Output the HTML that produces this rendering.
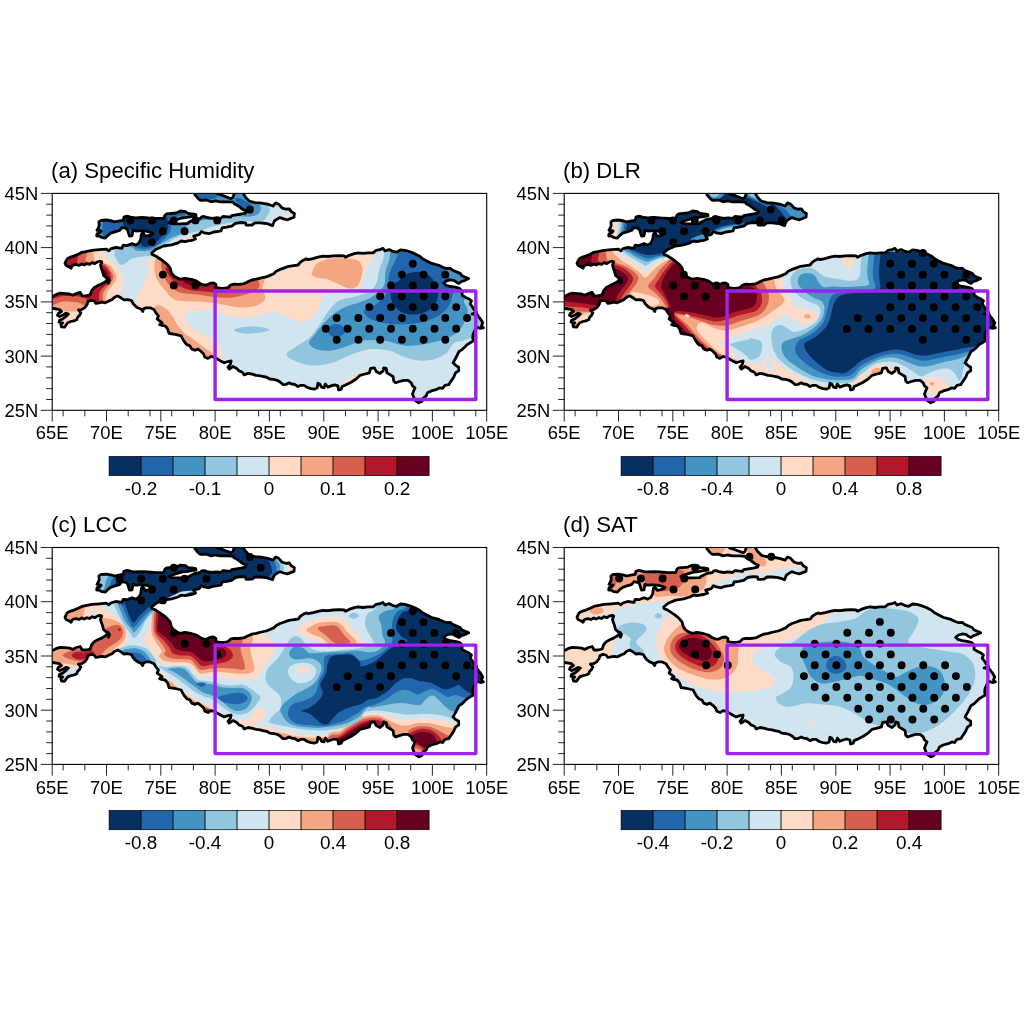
<!DOCTYPE html><html><head><meta charset="utf-8"><title>figure</title><style>
html,body{margin:0;padding:0;background:#fff}svg{display:block}text{font-family:"Liberation Sans",sans-serif;fill:#000}
</style></head><body>
<svg width="1024" height="1024" viewBox="0 0 1024 1024">
<rect width="1024" height="1024" fill="#fff"/>
<defs>
<path id="ol" d="M-5.7 103.1L0.3 103.1L3.7 101.2L8 99.8L13 100.2L17.4 100.6L20.5 101.9L24.3 100L28 99L29.9 102.5L33.7 102.5L38 101.5L39.3 97.5L41.8 94.4L45.5 92.2L49.3 90.6L53 88.5L54.9 86.5L56.3 89.8L57.3 87L56 85.1L53.5 83.9L51.3 82L50.4 78.2L49.2 75.1L48.3 71.8L49.5 68.5L47.9 67.8L45 68.6L42.5 70.2L40 69.2L37.3 71L34.5 70.2L32 71.5L29.5 70.5L26.7 72L23.5 71.1L20.4 72L18.8 74.8L16.7 73.2L14.2 72.2L12.8 70.1L13.8 67.6L15.4 65.1L18.5 63.6L22.3 62.4L26 60.8L29.8 58.9L34.8 57.9L39.8 56.9L47.3 56.3L54.2 55.7L56.7 57.4L58.5 55.5L63.5 54L69.8 54.9L71 51.8L74.8 52.2L79.8 50.2L83.5 51.6L86.7 49.8L88.5 46L89.2 41L90.7 39.2L92.9 42.8L96 42.3L99.2 41.4L100.9 39.9L96 38.2L92.9 37.6L89.8 37.4L87.3 37.4L83.5 37.6L80.7 36.8L80.3 39.8L79.8 42.4L77.3 42.6L76.4 39.8L75.4 36.6L73.5 34.8L69.8 34.1L67.3 37.1L63.5 38.2L58.5 39.8L55.4 42.2L53.2 44.6L49.8 44.2L46.7 42.6L44.5 42.6L44.8 40.4L47.9 39.1L48.9 37.6L44.8 36.9L46 34.8L47 32.2L46.7 28.5L48.5 27.1L54.2 26.6L59.8 27.6L62.3 28.5L66.7 27.6L71 26.9L71.7 23.8L74.8 22.8L79.8 24.1L83.5 24.4L89.8 24.1L96 24.4L95.8 24.5L103.9 25.1L111.4 25L113 21.4L114.5 20.4L123.9 19.6L128.3 17.6L133.3 18.2L135.8 20.1L139.5 20.4L143.6 21.1L143.8 22.5L139.5 23.1L135.8 23.8L129.5 24.6L123.3 26.4L118.9 27.8L116.7 29.2L120.8 30.4L128.3 30.4L135.8 30.1L135.8 29.4L142 26.2L148.3 25L149.5 23.4L152 23.1L154.5 24.1L159.5 25L163.9 24.4L168.3 25L170.8 23.1L178.3 23.8L179.5 22.2L188.9 20.6L193.3 19.7L194.2 17.8L190.8 16.2L187.7 13.8L184.5 11.6L182 10.3L180.8 8.8L175.8 8.4L168.3 8.4L163.3 7.5L158.9 8.4L154.5 6.6L148.3 6.9L145.8 5L142.7 1.2L142 -5L165.2 -5L165.2 0.3L170.8 2.2L178.9 5.3L180.8 3.8L182 0.3L182 -5L191.4 -5L191.4 0.6L193.3 3.8L197 7.5L197.8 8L202.8 9.2L207.8 9.5L215.3 10.8L220.9 12.6L223.4 9.5L226.5 10.8L229.7 14.5L233.4 15.8L237.2 15.5L239 18.2L242.2 20.1L241.8 23.9L238.4 25.1L235.3 26.4L231.5 25.5L227.8 24.2L224.7 25.8L222.2 27.6L220.3 32.2L216.5 30.8L214 30.1L207.8 29.5L202.8 29.5L199.8 31.6L193.9 31.8L193.3 29.5L188.9 29.1L183.3 30L179.5 32.8L174.5 33.8L169.9 34.5L168.9 37.5L165.8 38.1L160.8 38.8L157 40.3L152 39.4L149.2 38.1L147 41.2L141.4 42.6L143.3 45.6L139.5 47L135.8 47.5L133.3 48.2L128.9 47.6L125.8 49.5L119.5 51.4L111.4 52.6L103.9 55.8L99.5 59.5L99.8 61L103.5 62.6L107.3 65.1L111 67.6L114.8 70.8L117.9 74.5L119.2 79.5L121.7 82.6L124.8 84.5L127.8 85.8L132.8 85L139 86L144 87.5L147.8 90L150.9 91.6L154.7 91.6L157.8 90L161.3 89.5L163.8 91L163.4 94.1L167.8 94.8L171.5 95L175.9 94.1L178.4 91.6L181.5 90.8L186.5 91L191.5 90.4L195.3 88.5L199.7 86.6L204 85.8L209 84.5L214 83.5L217.8 82L221.5 80.4L224 77.9L227.8 76L232.2 74.5L236.5 72.9L241.5 72.2L245.9 71.6L248.4 68.5L251.5 66.6L254 65.4L255.8 66.2L260.8 65.2L265.8 63.8L270.8 62.8L275.8 63.1L280.8 62.5L287 62.2L292 62.5L293.3 63.8L297 61.9L302 60.2L305.8 59.4L310.8 60L315.8 59.4L320.8 59.4L323.9 56.9L327.7 56.2L330.8 55L332.7 57.5L337 56.2L340.8 58.1L344.5 58.8L348.3 56.5L352.7 56.9L357 58.1L362 60L367 62.5L370.8 65.6L374.5 67.5L379.5 70L383.8 71.2L386.8 71.9L390.5 73.8L394.3 75.2L398 74.8L400.5 76.9L404.3 78.5L408 80L409.9 82.5L413 83.8L416.5 85.2L413 86.9L409.3 88.1L406.8 90L404.3 88.8L401.8 86.9L398 86.5L394.3 87.5L391.5 89.8L393.7 91.9L398 93.1L403 93.8L407.4 95L409.9 97.5L409.9 101.9L413 103.8L416.8 105.6L419.3 107.5L418 110.6L419.9 113.1L421.8 116.2L424.3 118.8L419.9 120.6L424.9 121L426.8 123.8L428.7 126.2L430.5 129.4L429.3 132.5L431.2 134.4L428 135L424.9 133.8L422.4 137.5L420.8 141.2L420.5 145L421.2 147.5L418 149.4L414.9 151.2L412.4 153.8L409.9 156.2L406.8 158.1L404.9 161.9L403 165.6L400.9 169.4L403.4 171.9L406.5 173.8L406.5 177.5L403.4 179.4L401.5 183.8L399 187.5L396.5 191.2L392.8 191.9L390.3 195L387.8 194.4L384 196.2L379 197.5L375.3 199.4L374 202.5L370.9 205L369.7 208.1L366.5 209.4L362.8 206.9L361.5 203.8L360.3 200.6L361.5 197.5L362.8 194.4L360.3 192.5L359 189.4L355.9 186.9L351.5 186.9L347.2 188.1L343.4 189.4L341.5 187.5L340.9 183.1L337.8 181.2L334.7 179.4L334 175L331.5 174.4L330.9 177.5L327.8 180L324 178.1L322.2 174.4L318.4 175L317.2 179.4L312.8 180.6L307.8 181.9L304 185.6L299 188.8L292.8 191.9L290 193.1L288.8 196L286.3 196.5L285.7 192.5L282.5 191.5L278.8 192.5L275.7 193.8L273.2 190.6L271.9 194.4L269.4 193.8L267.5 190.6L265.7 189.8L265 194.4L262.5 195.6L258.8 195.2L255 194L251.9 191.9L248.8 191.9L245.7 193.1L242.5 191L239.4 190.6L236.9 189.4L233.8 191L230.7 191.2L228.2 188.8L225 186.9L221.3 186L217.5 185.6L214.4 183.8L210.7 183.1L206.9 182.2L203.8 181.9L199.5 180.6L195.8 180L192 181.5L190.2 178.8L187 177.5L184.5 175L180.8 173.1L177 175.6L175.8 173.8L178.3 170.6L178.9 167.5L175.8 168.1L172 169.4L168.3 167.5L165.2 165.6L162 163.8L158.9 163.1L155.8 165L152.7 163.8L151.4 160.6L148.9 158.1L145.8 155.6L142.7 156.9L139.5 155.6L137.7 152.5L134.5 151.2L132 148.1L130.2 145L128.9 142.5L125.2 141.5L120.8 140.6L116.8 140L115.5 135.6L113 132.5L109.3 131.9L107.4 131.2L109.9 129.4L106.8 126.9L104.9 125.6L106.2 122.5L103.7 119.4L101.8 116.2L98 114.4L93.7 114.4L91.2 115.6L90.5 118.1L88.7 115.6L85.5 114.4L83 112.5L80.8 110L79.3 107.2L75.5 106.2L71.8 106.5L68.7 104.4L65.5 102.5L62.4 103.8L59.9 106.2L56.8 107.5L53 109.4L49.9 108.8L46.8 109.4L43.7 110L41.8 107.5L38.7 106.9L35.8 108.1L34.9 111.2L32.4 114.4L29.3 116.2L26.2 116.5L28.7 119.4L27.4 121.9L25.5 123.8L24.5 126.2L21.8 127.5L18.7 128.1L15.5 129.4L13.7 131.9L12.4 133.8L9.3 133.5L8.7 131.2L10.5 129.4L6.8 128.8L7.4 126.9L10.5 125.6L13.7 123.1L16.2 120.6L13.7 119.8L10.5 121.9L7.4 123.1L5.3 121.9L6.2 119.8L9.3 118.1L7.4 116.2L4.3 115.6L0.3 115L-5.7 115Z"/>
<clipPath id="cp"><use href="#ol"/></clipPath>
<clipPath id="fr"><rect x="0" y="0" width="434.5" height="216.9"/></clipPath>
</defs>
<g transform="translate(52.2 193.4)">
<g clip-path="url(#fr)"><g clip-path="url(#cp)">
<rect x="0" y="0" width="434.5" height="216.9" fill="#FDDBC7"/>
<path d="M50.4 56.5C52.7 57.9 52.2 60.2 53.5 62.1C54.9 64 56.7 65.7 58.5 67.7C60.4 69.7 63 72 64.8 74C66.6 76 68.2 77.4 69.2 79.6C70.2 81.8 70.7 84.6 70.8 87.1C70.9 89.6 70.3 91.9 69.8 94.6C69.3 97.3 67.5 100.4 67.9 103.3C68.3 106.3 69.9 111.1 72.3 112.1C74.7 113.1 80 111.5 82.3 109.6C84.6 107.7 84.8 103.6 86 100.8C87.3 98.1 88.5 95.8 89.8 93.3C91 90.8 92.5 88.6 93.5 85.8C94.6 83.1 95.8 79.8 96 77.1C96.3 74.4 94.4 71.7 94.8 69.6C95.2 67.5 96.9 66.1 98.5 64.6C100.2 63.1 102.1 62.5 104.8 60.8C107.5 59.2 111 56.3 114.8 54.6C118.5 52.9 123.1 51.3 127.3 50.8C131.5 50.4 131.5 52.7 139.8 52.1C148.1 51.5 177.3 47.1 177.3 47.1L252.3 37.1C252.3 37.1 252.3 -7.9 252.3 -7.9L39.8 -7.9C39.8 -7.9 34.8 14.4 34.8 24.6C34.8 34.8 37.2 48 39.8 53.3C42.4 58.7 48.1 55 50.4 56.5Z" fill="#D1E5F0"/>
<path d="M328.1 53.3C320.1 58.3 322 62.7 319.3 67.1C316.6 71.5 313.5 75.4 311.8 79.6C310.1 83.8 311 89.2 309.3 92.1C307.6 95 305.6 95.8 301.8 97.1C298.1 98.3 291.8 98.8 286.8 99.6C281.8 100.4 274.9 100.4 271.8 102.1C268.7 103.8 269.3 106.7 268.1 109.6C266.8 112.5 266.6 116.7 264.3 119.6C262 122.5 258.1 125.8 254.3 127.1C250.6 128.3 245.6 127.9 241.8 127.1C238.1 126.3 235.1 123.6 231.8 122.1C228.5 120.6 226 118.3 221.8 118.3C217.6 118.3 211.8 121.1 206.8 122.1C201.8 123.1 197.1 124.6 191.8 124.6C186.5 124.6 180.1 123.3 174.8 122.1C169.5 120.8 165.6 117.7 159.8 117.1C154 116.5 144.4 117.1 139.8 118.3C135.2 119.6 132.3 121.9 132.3 124.6C132.3 127.3 136.1 131.5 139.8 134.6C143.6 137.7 150.6 140.8 154.8 143.3C159 145.8 162.3 146.9 164.8 149.6C167.3 152.3 167.8 155.4 169.8 159.6C171.8 163.8 174.8 168.8 176.8 174.6C178.8 180.4 181.8 194.6 181.8 194.6L241.8 219.6L366.8 224.6L441.8 174.6L441.8 74.6L366.8 37.1C366.8 37.1 336 48.3 328.1 53.3Z" fill="#D1E5F0"/>
<path d="M60.4 55.8C64.2 57.5 61.6 60.2 62.3 62.1C63 64 63.7 65.5 64.8 67.1C65.9 68.7 67.7 71.1 69.2 71.5C70.6 71.9 72.2 70.4 73.5 69.6C74.9 68.8 75.8 67.3 77.3 66.5C78.8 65.6 80.2 65.1 82.3 64.6C84.4 64.1 87.5 63.7 89.8 63.3C92.1 63 94.4 63.1 96 62.7C97.7 62.3 98.5 61.7 99.8 60.8C101 60 101.9 59.1 103.5 57.7C105.2 56.4 107.5 54.3 109.8 52.7C112.1 51.2 114.3 50 117.3 48.3C120.3 46.7 124 44.3 127.8 42.7C131.6 41.2 136.6 40 140.3 39C144.1 37.9 147.2 37.4 150.3 36.5C153.4 35.5 155.7 34.3 159.1 33.3C162.4 32.4 166.6 31.6 170.3 30.8C174.1 30.1 177.8 29.5 181.6 29C185.3 28.5 188.8 27.7 192.8 27.7C196.8 27.7 202.2 29.1 205.3 29C208.4 28.9 209.9 28.2 211.6 27.1C213.2 26 214.3 23.8 215.3 22.1C216.3 20.4 217.8 18.8 217.8 17.1C217.8 15.4 217 13.6 215.3 12.1C213.6 10.6 210 11.7 207.8 8.3C205.6 5 202.3 -7.9 202.3 -7.9L39.8 -7.9C39.8 -7.9 34.8 14.6 34.8 24.6C34.8 34.6 35.5 46.9 39.8 52.1C44.1 57.3 56.7 54.2 60.4 55.8Z" fill="#92C5DE"/>
<path d="M336.8 53.3C330.8 58.3 332.2 63.1 330.6 67.1C328.9 71.1 327.8 73.3 326.8 77.1C325.8 80.8 326 86.1 324.3 89.6C322.6 93.1 320.6 96.1 316.8 98.3C313.1 100.6 306.8 101.9 301.8 103.3C296.8 104.8 291 104.8 286.8 107.1C282.6 109.4 280.1 112.9 276.8 117.1C273.5 121.3 270.1 127.5 266.8 132.1C263.5 136.7 261 140.8 256.8 144.6C252.6 148.3 245.6 151.9 241.8 154.6C238.1 157.3 234.3 158.8 234.3 160.8C234.3 162.9 237.6 165.2 241.8 167.1C246 169 253.1 171.7 259.3 172.1C265.6 172.5 273.1 171.3 279.3 169.6C285.6 167.9 290.6 164.4 296.8 162.1C303.1 159.8 310.1 156.7 316.8 155.8C323.5 155 331 155.8 336.8 157.1C342.6 158.3 346.8 161.7 351.8 163.3C356.8 165 361.8 166.7 366.8 167.1C371.8 167.5 377.2 167.1 381.8 165.8C386.4 164.6 391 162.3 394.3 159.6C397.6 156.9 398.9 151.7 401.8 149.6C404.7 147.5 408.5 148.3 411.8 147.1C415.1 145.8 416.8 145.8 421.8 142.1C426.8 138.3 441.8 124.6 441.8 124.6L441.8 62.1L366.8 37.1C366.8 37.1 342.8 48.3 336.8 53.3Z" fill="#92C5DE"/>
<path d="M181.8 136.6C181.8 135.5 187.6 134.1 191.8 133.6C196 133.1 202.6 132.8 206.8 133.3C211.1 133.8 217.7 135.6 217.3 136.6C216.9 137.6 208.6 139 204.3 139.6C200.1 140.2 195.6 140.6 191.8 140.1C188.1 139.6 181.8 137.7 181.8 136.6Z" fill="#92C5DE"/>
<path d="M77.3 53.3C84.4 54.5 80.2 55.7 82.3 56.5C84.4 57.2 87.5 57.6 89.8 57.7C92.1 57.9 94.2 57.7 96 57.3C97.9 57 99.4 56.7 101 55.8C102.7 55 104.2 53.3 106 52.1C107.9 50.8 110 49.7 112.3 48.3C114.6 47 117.3 45.2 119.8 44C122.3 42.7 125.3 42.2 127.3 40.8C129.3 39.5 130.2 37.5 131.7 35.8C133.1 34.2 134.1 32.1 136.1 30.8C138 29.6 140.8 29.3 143.6 28.6C146.3 27.9 148.1 27.1 152.3 26.5C156.6 25.8 164.2 25.2 169.1 24.6C173.9 24 177.2 22.9 181.6 22.7C185.9 22.5 191.8 23.5 195.3 23.3C198.8 23.2 200.7 22.9 202.8 22.1C204.9 21.3 206.9 19.8 207.8 18.3C208.7 16.9 208.8 14.8 208.4 13.3C208 11.9 207.1 10.8 205.3 9.6C203.5 8.3 199.9 7.2 197.8 5.8C195.7 4.5 193.6 3.8 192.8 1.5C192 -0.8 192.8 -7.9 192.8 -7.9L39.8 -7.9C39.8 -7.9 34.8 15 34.8 24.6C34.8 34.2 32.7 44.8 39.8 49.6C46.9 54.4 70.2 52.2 77.3 53.3Z" fill="#4393C3"/>
<path d="M341.8 53.3C336.8 58.3 338.3 62.7 336.8 67.1C335.3 71.5 333.9 75.4 333.1 79.6C332.2 83.8 333.7 88.3 331.8 92.1C329.9 95.8 325.6 99.4 321.8 102.1C318.1 104.8 313.5 106.7 309.3 108.3C305.1 110 301 110.4 296.8 112.1C292.6 113.8 288.5 115.4 284.3 118.3C280.1 121.3 275.6 125.6 271.8 129.6C268.1 133.6 264.3 138.8 261.8 142.1C259.3 145.4 256.4 147.3 256.8 149.6C257.2 151.9 260.6 154.6 264.3 155.8C268.1 157.1 273.9 157.7 279.3 157.1C284.7 156.5 291.4 153.8 296.8 152.1C302.2 150.4 306 147.9 311.8 147.1C317.6 146.3 325.1 146.3 331.8 147.1C338.5 147.9 345.1 151.5 351.8 152.1C358.5 152.7 365.1 151.9 371.8 150.8C378.5 149.8 386.4 147.7 391.8 145.8C397.2 144 401 142.3 404.3 139.6C407.6 136.9 409.9 133.3 411.8 129.6C413.7 125.8 415.3 121.3 415.6 117.1C415.8 112.9 408.7 108.3 413.1 104.6C417.4 100.8 437 101.7 441.8 94.6C446.6 87.5 441.8 62.1 441.8 62.1L366.8 37.1C366.8 37.1 346.8 48.3 341.8 53.3Z" fill="#4393C3"/>
<path d="M52.3 17.1L134.8 15.8C134.8 15.8 134.4 20.3 132.9 21.5C131.5 22.6 128 22 126 22.7C124.1 23.5 122.2 24.3 121 25.8C119.9 27.4 119.7 30 119.2 32.1C118.7 34.2 118.8 36.5 117.9 38.3C117.1 40.2 115.6 41.7 114.2 43.3C112.7 45 110.8 46.9 109.2 48.3C107.5 49.8 105.9 51.1 104.2 52.1C102.4 53.1 100.5 54 98.5 54.6C96.6 55.2 94.4 55.6 92.3 55.6C90.2 55.6 87.9 55.1 86 54.6C84.2 54.1 82.5 53.7 81 52.7C79.6 51.8 82.1 49.7 77.3 49C72.5 48.2 56.5 53.7 52.3 48.3C48.1 43 52.3 17.1 52.3 17.1Z" fill="#2166AC"/>
<path d="M182.8 5.8C182.8 4.6 185.9 4.5 187.8 4.8C189.7 5.2 192.2 7 194.1 8.1C195.9 9.2 197.8 10.3 199.1 11.5C200.3 12.7 201.6 13.8 201.8 15.2C202 16.6 201.3 19.3 200.1 19.8C198.8 20.4 196.1 19.9 194.1 18.6C192 17.3 189.7 14.2 187.8 12.1C185.9 10 182.8 7.1 182.8 5.8Z" fill="#2166AC"/>
<path d="M140.3 -1.7C143.8 -2.7 161.4 -2.7 165.3 -1.7C169.2 -0.7 165.5 3.1 163.4 4.3C161.3 5.6 156 6.1 152.8 6.1C149.6 6.1 146.1 5.9 144.1 4.6C142 3.3 136.8 -0.6 140.3 -1.7Z" fill="#2166AC"/>
<path d="M351.8 53.3C346.8 56.7 344.3 64.8 341.8 69.6C339.3 74.4 337.8 77.9 336.8 82.1C335.8 86.3 336.4 90.8 335.6 94.6C334.7 98.3 334.1 101.7 331.8 104.6C329.5 107.5 325.1 110 321.8 112.1C318.5 114.2 312.6 115 311.8 117.1C311 119.2 313.5 122.5 316.8 124.6C320.1 126.7 326 128.6 331.8 129.6C337.6 130.6 345.1 131.1 351.8 130.8C358.5 130.6 366 129.8 371.8 128.3C377.6 126.9 382.6 124.8 386.8 122.1C391 119.4 394.5 115.8 396.8 112.1C399.1 108.3 400.1 103.3 400.6 99.6C401 95.8 400.1 92.7 399.3 89.6C398.5 86.5 397.1 83.7 395.6 80.8C394 78 391.7 75.4 389.8 72.6C387.9 69.8 387.3 67.9 384.3 64.1C381.3 60.3 377.2 51.4 371.8 49.6C366.4 47.8 356.8 50 351.8 53.3Z" fill="#2166AC"/>
<path d="M275.6 137.1C275.8 135.2 278.3 131.9 280.6 131.1C282.8 130.3 287.2 130.9 289.3 132.1C291.4 133.3 293.5 136.5 293.1 138.3C292.6 140.2 289.1 142.6 286.8 143.3C284.5 144.1 281.2 143.6 279.3 142.6C277.4 141.6 275.3 139 275.6 137.1Z" fill="#2166AC"/>
<path d="M71 17.1C77.6 15.6 102.5 18.1 109.8 19.6C117.1 21.1 113.8 23.8 114.8 25.8C115.8 27.9 116 30.2 116 32.1C116 34 115.6 35.4 114.8 37.1C114 38.8 112.5 40.5 111 42.1C109.6 43.7 107.5 45.2 106 46.5C104.6 47.7 103.5 48.7 102.3 49.6C101 50.5 100 51.5 98.5 52.1C97.1 52.7 95 53.3 93.5 53.3C92.1 53.3 90.6 53.3 89.8 52.1C89 50.8 88.9 47.9 88.5 45.8C88.2 43.8 88.8 41.1 87.9 39.6C87.1 38.1 85.3 37.7 83.5 37.1C81.8 36.5 79.1 36.5 77.3 35.8C75.5 35.2 73.7 34.6 72.5 33.3C71.4 32.1 70.7 31.1 70.4 28.3C70.2 25.6 64.5 18.6 71 17.1Z" fill="#053061"/>
<path d="M346.8 87.1C348.9 85.4 351 82.3 354.3 80.8C357.6 79.4 363.1 78.1 366.8 78.3C370.6 78.6 373.9 79.8 376.8 82.1C379.7 84.4 382.8 88.3 384.3 92.1C385.8 95.8 386.4 100.8 385.6 104.6C384.7 108.3 382.4 111.9 379.3 114.6C376.2 117.3 371.4 120 366.8 120.8C362.2 121.7 356 121.1 351.8 119.6C347.6 118.1 344.1 115.4 341.8 112.1C339.5 108.8 338.1 103.1 338.1 99.6C338.1 96.1 340.3 92.9 341.8 90.8C343.3 88.8 344.7 88.8 346.8 87.1Z" fill="#053061"/>
<path d="M41.2 50.3C41.2 50.3 40.9 55.6 41.2 58.5C41.5 61.4 41.9 66.1 43 67.8C44.2 69.6 45.8 68.5 48 69.1C50.3 69.7 54.8 70.7 56.8 71.6C58.8 72.5 59.2 73.1 60.3 74.7C61.4 76.4 63.2 79.4 63.7 81.6C64.1 83.8 63.8 86 63 87.8C62.3 89.7 60.5 91.2 59.3 92.8C58 94.5 56.5 96 55.5 97.8C54.6 99.7 54.1 101.6 53.7 104.1C53.3 106.6 56.7 110.3 53 112.8C49.4 115.3 36 118.4 31.8 119.1C27.6 119.8 29.3 117 28 116.8C26.8 116.7 26.2 117.9 24.3 118.1C22.4 118.3 19.1 118.2 16.8 118.1C14.5 118 12.6 117.5 10.5 117.5C8.5 117.5 6.6 117.8 4.3 118.1C2 118.4 -0.1 118.9 -3.2 119.1C-6.3 119.3 -14.5 119.1 -14.5 119.1L-14.5 50.3L41.2 50.3Z" fill="#F4A582"/>
<path d="M34.3 50.3C34.3 50.3 35 56.2 34.9 59.1C34.8 62 32.5 66.2 33.7 67.8C34.8 69.5 39.1 68.9 41.8 69.1C44.5 69.3 47.8 68.7 49.9 69.1C52 69.5 53.1 70.6 54.3 71.6C55.5 72.6 56 73.7 57 75.3C58.1 77 60.3 79.7 60.8 81.6C61.3 83.5 61 84.9 60.3 86.6C59.6 88.3 58.1 89.9 56.8 91.6C55.5 93.3 53.5 94.9 52.4 96.6C51.4 98.3 51 99.1 50.5 101.6C50.1 104.1 52.4 109.1 49.9 111.6C47.4 114.1 38.6 116.6 35.5 116.6C32.5 116.6 33.7 112.9 31.8 111.6C29.9 110.3 27.2 109.4 24.3 108.8C21.4 108.3 17.2 108.1 14.3 108.1C11.4 108.1 9.1 108.5 6.8 109.1C4.5 109.7 4.1 111 0.5 111.6C-3 112.2 -14.5 112.8 -14.5 112.8L-14.5 50.3L34.3 50.3Z" fill="#D6604D"/>
<path d="M26.2 50.3C32.9 52.1 26.4 57.8 26.2 61C26 64.1 24.4 67.1 24.9 69.1C25.4 71.1 26.5 72.4 29.3 72.8C32.1 73.3 38.4 71.8 41.8 71.6C45.2 71.4 47.9 71.2 49.9 71.6C52 72 52.8 72.8 54 74.1C55.3 75.3 56.7 77.4 57.4 79.1C58.2 80.8 58.8 82.4 58.7 84.1C58.6 85.8 57.9 87.5 56.8 89.1C55.7 90.7 53.3 92 51.8 93.5C50.3 94.9 48.9 96.3 48 97.8C47.2 99.4 47.1 100.9 46.8 102.8C46.5 104.8 48.2 109 46.2 109.7C44.2 110.5 36.9 108 34.9 107.2C32.9 106.5 35.2 106 34.3 105.3C33.4 104.7 31.8 103.9 29.3 103.5C26.8 103 22.6 102.7 19.3 102.6C16 102.5 12.4 102.4 9.3 102.8C6.2 103.3 4.5 104.7 0.5 105.3C-3.4 106 -14.5 106.6 -14.5 106.6L-14.5 50.3C-14.5 50.3 19.4 48.6 26.2 50.3Z" fill="#B2182B"/>
<path d="M51.3 75.3C51.8 75 53.5 77.2 54.3 78.5C55.1 79.7 55.8 81.6 55.9 82.8C56 84.1 55.6 85.9 55 86.2C54.5 86.5 53 85.7 52.4 84.7C51.8 83.7 51.7 81.9 51.5 80.3C51.4 78.8 50.8 75.7 51.3 75.3Z" fill="#67001F"/>
<path d="M102.9 67.7C101.7 70.6 101.9 73.9 102.3 77.1C102.7 80.3 103.5 83.7 105.4 87.1C107.3 90.5 110.9 94.6 113.5 97.7C116.2 100.8 118.1 104.2 121.5 105.8C125 107.5 129.7 107.5 134.1 107.8C138.4 108.2 143.4 107.8 147.8 108.1C152.2 108.3 156.1 108.8 160.3 109.3C164.5 109.9 168.6 110.8 172.8 111.6C177 112.3 181.2 113.5 185.3 113.8C189.4 114.2 193.6 114.1 197.3 113.6C201 113.1 204.7 112.3 207.3 110.8C209.9 109.3 212.5 107.3 213.1 104.6C213.6 101.9 210.6 97.9 210.6 94.6C210.6 91.3 212 87.9 213.1 84.6C214.1 81.3 218.6 77.9 216.8 74.6C215 71.3 208.9 65.4 202.3 64.6C195.7 63.8 177.3 69.6 177.3 69.6L127.3 69.6C127.3 69.6 113.9 59.9 109.8 59.6C105.7 59.3 104.2 64.8 102.9 67.7Z" fill="#F4A582"/>
<path d="M110.4 67.7C107.5 68.3 109.5 73 109.8 75.8C110.1 78.7 110.8 81.6 112.3 84.6C113.8 87.6 116.5 91.2 119 93.6C121.6 96 124.3 97.9 127.8 99.1C131.3 100.3 136.1 100.1 140.3 100.6C144.5 101.1 149.1 101.8 152.8 102.3C156.6 102.8 158.6 103.3 162.8 103.6C167 103.9 173.2 104.6 177.8 104.3C182.4 104.1 186.4 102.8 190.3 101.8C194.2 100.8 198.2 99.8 201.1 98.3C203.9 96.9 206.5 95.2 207.3 93.3C208.1 91.5 207.3 89.2 206.1 87.1C204.8 85 204.6 82.9 199.8 80.8C195 78.8 177.3 74.6 177.3 74.6L127.3 72.1C127.3 72.1 113.3 67.1 110.4 67.7Z" fill="#D6604D"/>
<path d="M114.8 73.3C110.8 74.4 115 78.6 116 80.8C117.1 83.1 119.2 85.1 121 87.1C122.9 89.1 125 91.3 127.3 92.7C129.6 94.2 131.9 95 134.8 95.8C137.7 96.7 141.5 97.3 144.8 97.7C148.1 98.1 151 98.1 154.8 98.3C158.6 98.6 164.1 99.2 167.8 99C171.6 98.8 175.7 100.1 177.3 97.1C178.9 94.1 183.6 84.6 177.3 80.8C171.1 77.1 150.2 75.8 139.8 74.6C129.4 73.3 118.8 72.3 114.8 73.3Z" fill="#B2182B"/>
<path d="M126 84C125.2 85.1 130 87.7 132.3 89C134.6 90.3 137.3 91.2 139.8 91.8C142.3 92.5 145.1 92.7 147.3 92.7C149.5 92.7 152.1 92.8 152.9 91.8C153.8 90.9 154.9 88.7 152.3 87.1C149.7 85.5 141.7 82.6 137.3 82.1C132.9 81.6 126.9 82.8 126 84Z" fill="#67001F"/>
<path d="M103.5 112.6C105.5 110.2 111.3 113.6 114 115.3C116.8 117.1 118.4 120.1 120.3 122.8C122.2 125.6 123.4 128.9 125.3 131.6C127.2 134.3 129.1 136.8 131.6 139.1C134.1 141.4 137.2 143.1 140.3 145.3C143.4 147.6 147.2 150.6 150.3 152.8C153.4 155.1 157.1 157.3 159.1 159.1C161 160.8 161.7 160.8 161.8 163.3C161.9 165.9 163.5 174 159.8 174.6C156.1 175.2 146.5 171.3 139.8 167.1C133.1 162.9 126 155.8 119.8 149.6C113.5 143.3 105 135.8 102.3 129.6C99.6 123.4 101.6 115 103.5 112.6Z" fill="#F4A582"/>
<path d="M259.8 80.1C260 77.8 262 72.5 264.8 70.1C267.6 67.7 272.3 66.4 276.8 65.6C281.3 64.8 287.1 64.9 291.8 65.1C296.5 65.3 301.7 65.1 304.8 66.6C307.9 68.1 309.6 71 310.3 74.1C311 77.2 309.7 81.9 308.8 85.1C307.9 88.3 306.8 91.4 304.8 93.1C302.8 94.8 299.9 95.5 296.8 95.1C293.7 94.7 290.1 92.2 286.3 90.6C282.6 89 278.1 86.7 274.3 85.6C270.6 84.5 266.2 85 263.8 84.1C261.4 83.2 259.6 82.4 259.8 80.1Z" fill="#F4A582"/>
<path d="M289.3 190.8C289.3 189.2 293.9 186.9 296.8 185.1C299.7 183.3 303.5 181.6 306.8 180.1C310.1 178.6 314.6 175.5 316.8 175.8C319 176.2 321.1 179.7 319.8 182.1C318.6 184.5 313.1 187.9 309.3 190.1C305.5 192.3 300.1 195 296.8 195.1C293.5 195.2 289.3 192.5 289.3 190.8Z" fill="#FDDBC7"/>
<path d="M227.8 24C228.2 23.3 229.7 22.4 231.6 22.1C233.4 21.8 237.6 21.7 239.1 22.1C240.5 22.5 241.1 23.9 240.3 24.6C239.5 25.3 235.9 25.8 234.1 26.1C232.2 26.4 230.1 26.7 229.1 26.3C228 26 227.4 24.7 227.8 24Z" fill="#FDDBC7"/>
<path d="M127.3 46.8C128.1 45.9 132.5 44.5 134.8 43.8C137.1 43.2 139.8 42.3 141.1 42.7C142.3 43.2 142.9 45.5 142.1 46.5C141.2 47.5 138.1 48.1 136.1 48.6C134 49.1 131.3 49.6 129.8 49.3C128.3 49.1 126.5 47.8 127.3 46.8Z" fill="#FDDBC7"/>
</g>
<use href="#ol" fill="none" stroke="#000" stroke-width="2.8" stroke-linejoin="round"/>
</g>
<circle cx="360.6" cy="70.3" r="3.95"/>
<circle cx="349.7" cy="81.2" r="3.95"/>
<circle cx="371.4" cy="81.2" r="3.95"/>
<circle cx="393.1" cy="81.2" r="3.95"/>
<circle cx="338.8" cy="92" r="3.95"/>
<circle cx="360.6" cy="92" r="3.95"/>
<circle cx="382.3" cy="92" r="3.95"/>
<circle cx="328" cy="102.9" r="3.95"/>
<circle cx="349.7" cy="102.9" r="3.95"/>
<circle cx="371.4" cy="102.9" r="3.95"/>
<circle cx="393.1" cy="102.9" r="3.95"/>
<circle cx="317.1" cy="113.7" r="3.95"/>
<circle cx="338.8" cy="113.7" r="3.95"/>
<circle cx="360.6" cy="113.7" r="3.95"/>
<circle cx="382.3" cy="113.7" r="3.95"/>
<circle cx="404" cy="113.7" r="3.95"/>
<circle cx="284.5" cy="124.6" r="3.95"/>
<circle cx="306.2" cy="124.6" r="3.95"/>
<circle cx="328" cy="124.6" r="3.95"/>
<circle cx="349.7" cy="124.6" r="3.95"/>
<circle cx="371.4" cy="124.6" r="3.95"/>
<circle cx="393.1" cy="124.6" r="3.95"/>
<circle cx="414.9" cy="124.6" r="3.95"/>
<circle cx="273.6" cy="135.4" r="3.95"/>
<circle cx="295.4" cy="135.4" r="3.95"/>
<circle cx="317.1" cy="135.4" r="3.95"/>
<circle cx="338.8" cy="135.4" r="3.95"/>
<circle cx="360.6" cy="135.4" r="3.95"/>
<circle cx="382.3" cy="135.4" r="3.95"/>
<circle cx="404" cy="135.4" r="3.95"/>
<circle cx="284.5" cy="146.3" r="3.95"/>
<circle cx="306.2" cy="146.3" r="3.95"/>
<circle cx="328" cy="146.3" r="3.95"/>
<circle cx="349.7" cy="146.3" r="3.95"/>
<circle cx="371.4" cy="146.3" r="3.95"/>
<circle cx="393.1" cy="146.3" r="3.95"/>
<circle cx="78.1" cy="27" r="3.95"/>
<circle cx="99.8" cy="27" r="3.95"/>
<circle cx="121.6" cy="27" r="3.95"/>
<circle cx="110.7" cy="37.8" r="3.95"/>
<circle cx="99.8" cy="48.7" r="3.95"/>
<circle cx="132.4" cy="37.8" r="3.95"/>
<circle cx="143.3" cy="27" r="3.95"/>
<circle cx="165" cy="27" r="3.95"/>
<circle cx="197.6" cy="16.1" r="3.95"/>
<circle cx="110.7" cy="81.2" r="3.95"/>
<circle cx="121.6" cy="92" r="3.95"/>
<circle cx="143.3" cy="92" r="3.95"/>
<rect x="162.9" y="97.6" width="260.7" height="108.5" fill="none" stroke="#A020F0" stroke-width="3.4" stroke-linejoin="round"/>
<rect x="0" y="0" width="434.5" height="216.9" fill="none" stroke="#000" stroke-width="1.1"/>
<path d="M0 216.9v11.3M10.9 216.9v6M32.6 216.9v6M54.3 216.9v11.3M76 216.9v6M97.8 216.9v6M108.6 216.9v11.3M119.5 216.9v6M141.2 216.9v6M162.9 216.9v11.3M184.7 216.9v6M206.4 216.9v6M217.2 216.9v11.3M228.1 216.9v6M249.8 216.9v6M271.6 216.9v11.3M293.3 216.9v6M315 216.9v6M325.9 216.9v11.3M336.7 216.9v6M358.5 216.9v6M380.2 216.9v11.3M401.9 216.9v6M423.6 216.9v6M434.5 216.9v11.3M0 216.9h-11.3M0 206.1h-6M0 195.2h-6M0 184.4h-6M0 173.5h-6M0 162.7h-11.3M0 151.8h-6M0 141h-6M0 130.1h-6M0 119.3h-6M0 108.5h-11.3M0 97.6h-6M0 86.8h-6M0 75.9h-6M0 65.1h-6M0 54.2h-11.3M0 43.4h-6M0 32.5h-6M0 21.7h-6M0 10.8h-6M0 0h-11.3" stroke="#000" stroke-width="0.85" fill="none"/>
<g style="filter:opacity(1)">
<text x="0" y="246.1" font-size="18.4" text-anchor="middle">65E</text>
<text x="54.3" y="246.1" font-size="18.4" text-anchor="middle">70E</text>
<text x="108.6" y="246.1" font-size="18.4" text-anchor="middle">75E</text>
<text x="162.9" y="246.1" font-size="18.4" text-anchor="middle">80E</text>
<text x="217.2" y="246.1" font-size="18.4" text-anchor="middle">85E</text>
<text x="271.6" y="246.1" font-size="18.4" text-anchor="middle">90E</text>
<text x="325.9" y="246.1" font-size="18.4" text-anchor="middle">95E</text>
<text x="380.2" y="246.1" font-size="18.4" text-anchor="middle">100E</text>
<text x="434.5" y="246.1" font-size="18.4" text-anchor="middle">105E</text>
<text x="-13.9" y="223.5" font-size="18.4" text-anchor="end">25N</text>
<text x="-13.9" y="169.3" font-size="18.4" text-anchor="end">30N</text>
<text x="-13.9" y="115" font-size="18.4" text-anchor="end">35N</text>
<text x="-13.9" y="60.8" font-size="18.4" text-anchor="end">40N</text>
<text x="-13.9" y="6.6" font-size="18.4" text-anchor="end">45N</text>
<text x="-1.2" y="-15.7" font-size="22.2">(a) Specific Humidity</text>
<rect x="56.9" y="263" width="32" height="19.2" fill="#053061" stroke="#000" stroke-width="0.7"/>
<rect x="88.9" y="263" width="32" height="19.2" fill="#2166AC" stroke="#000" stroke-width="0.7"/>
<rect x="120.9" y="263" width="32" height="19.2" fill="#4393C3" stroke="#000" stroke-width="0.7"/>
<rect x="152.9" y="263" width="32" height="19.2" fill="#92C5DE" stroke="#000" stroke-width="0.7"/>
<rect x="184.9" y="263" width="32" height="19.2" fill="#D1E5F0" stroke="#000" stroke-width="0.7"/>
<rect x="216.9" y="263" width="32" height="19.2" fill="#FDDBC7" stroke="#000" stroke-width="0.7"/>
<rect x="248.9" y="263" width="32" height="19.2" fill="#F4A582" stroke="#000" stroke-width="0.7"/>
<rect x="280.9" y="263" width="32" height="19.2" fill="#D6604D" stroke="#000" stroke-width="0.7"/>
<rect x="312.9" y="263" width="32" height="19.2" fill="#B2182B" stroke="#000" stroke-width="0.7"/>
<rect x="344.9" y="263" width="32" height="19.2" fill="#67001F" stroke="#000" stroke-width="0.7"/>
<text x="88.9" y="301.6" font-size="18.9" text-anchor="middle">-0.2</text>
<text x="152.9" y="301.6" font-size="18.9" text-anchor="middle">-0.1</text>
<text x="216.9" y="301.6" font-size="18.9" text-anchor="middle">0</text>
<text x="280.9" y="301.6" font-size="18.9" text-anchor="middle">0.1</text>
<text x="344.9" y="301.6" font-size="18.9" text-anchor="middle">0.2</text>
</g>
</g>
<g transform="translate(564.2 193.4)">
<g clip-path="url(#fr)"><g clip-path="url(#cp)">
<rect x="0" y="0" width="434.5" height="216.9" fill="#D1E5F0"/>
<path d="M220.5 71.1C220.5 71.1 218.8 84.4 218.7 88.6C218.6 92.8 219 93.8 219.9 96.1C220.9 98.4 222.9 100.3 224.3 102.3C225.7 104.4 227 106.7 228 108.6C229.1 110.5 229.1 112.6 230.5 113.6C232 114.6 234.5 114.5 236.8 114.8C239.1 115.2 242 114.8 244.3 115.5C246.6 116.1 249.1 117.5 250.5 118.6C252 119.7 253 120.9 253 122.3C253 123.8 252 126 250.5 127.3C249.1 128.7 246.6 130.1 244.3 130.5C242 130.9 239.3 130.6 236.8 129.8C234.3 129.1 231.6 127.3 229.3 126.1C227 124.8 224.9 123.2 223 122.3C221.2 121.5 219.7 120.7 218 121.1C216.4 121.5 214.9 123.4 213 124.8C211.2 126.3 209.1 128.4 206.8 129.8C204.5 131.3 201.8 132.8 199.3 133.6C196.8 134.4 194.5 134 191.8 134.8C189.1 135.7 186 137.5 183.3 138.6C180.6 139.7 178.3 140.9 175.8 141.7C173.3 142.6 170.8 142.9 168.3 143.6C165.8 144.3 163.2 145.1 160.8 146.1C158.4 147.1 153.9 148.7 153.9 149.6C153.9 150.5 158.8 150.8 160.8 151.7C162.8 152.6 164.3 153.5 165.8 154.8C167.3 156.2 168.3 158.2 169.5 159.8C170.8 161.5 171.8 163.6 173.3 164.8C174.8 166.1 176.2 166.5 178.3 167.3C180.4 168.2 183.3 169.3 185.8 169.8C188.3 170.4 191.2 170.7 193.3 170.5C195.4 170.3 196.8 169.5 198.3 168.6C199.8 167.7 200.8 165.7 202 164.8C203.3 164 204.3 163.2 205.8 163.6C207.3 164 209.1 165.9 210.8 167.3C212.5 168.8 214.1 170.9 215.8 172.3C217.5 173.8 219.6 175.4 220.8 176.1C222 176.8 221.4 175.8 223 176.7C224.7 177.7 227.6 180.1 230.5 181.7C233.5 183.4 237.2 185.3 240.5 186.7C243.9 188.2 247 189.4 250.5 190.5C254.1 191.5 257 192.5 261.8 193C266.6 193.5 273.9 193.7 279.3 193.6C284.7 193.5 290.1 191.1 294.3 192.3C298.5 193.6 302.6 193.4 304.3 201.1C306 208.8 304.3 238.6 304.3 238.6L-108.2 238.6L-108.2 -11.4L220.5 -11.4L220.5 71.1Z" fill="#FDDBC7"/>
<path d="M201.3 171.1C201.4 169.2 202.4 166.1 203.3 165.5C204.2 164.8 205.6 166.1 206.5 167.3C207.5 168.6 208.8 171.2 208.8 173C208.8 174.7 207.8 177.3 206.8 178C205.8 178.6 203.7 177.9 202.8 176.7C201.9 175.6 201.2 173 201.3 171.1Z" fill="#D1E5F0"/>
<path d="M275.8 64.2C273.8 65 277.8 66.9 279.3 68.8C280.8 70.8 283 75.3 284.5 75.7C286 76.1 287.2 73 288.3 71.1C289.4 69.2 293.3 65.4 291.2 64.2C289.1 63.1 277.8 63.5 275.8 64.2Z" fill="#FDDBC7"/>
<path d="M303.3 178.1C303.5 176.5 306.2 174.6 308.3 173.5C310.4 172.4 313.1 171.8 315.8 171.6C318.5 171.4 322.3 171.7 324.5 172.2C326.8 172.8 328.6 173.7 329 175C329.5 176.2 329.5 178.4 327 179.7C324.6 181 317.9 182.3 314.5 182.8C311.2 183.4 308.9 183.6 307 182.8C305.2 182.1 303.1 179.7 303.3 178.1Z" fill="#FDDBC7"/>
<path d="M288.3 181.6C290.2 179.5 296.8 180.3 299.5 180.3C302.3 180.4 304.2 180.7 304.8 181.8C305.4 183 304.8 185.6 303.3 187.2C301.8 188.8 298.3 190.7 295.8 191.6C293.3 192.5 289.5 194.5 288.3 192.8C287 191.2 286.4 183.7 288.3 181.6Z" fill="#FDDBC7"/>
<path d="M359.5 188.1C360 186.5 361.4 185.6 363.3 184.8C365.2 184.1 368.3 183.5 370.8 183.5C373.3 183.5 376.3 183.9 378.3 184.8C380.3 185.8 382 187.6 382.8 189.1C383.6 190.6 383.6 192.6 383.3 194.1C383 195.6 382.3 197 381 198.1C379.8 199.2 377.7 200 375.8 200.6C373.9 201.2 371.5 202.1 369.5 201.8C367.6 201.6 365.8 200.6 364.3 199.3C362.8 198.1 361.6 196.2 360.8 194.3C360 192.5 359.1 189.7 359.5 188.1Z" fill="#FDDBC7"/>
<path d="M365.2 190.1C365.1 189.4 366.9 188.3 367.8 188.3C368.7 188.3 370.5 189.4 370.5 190.1C370.6 190.8 369.2 192.3 368.3 192.3C367.4 192.3 365.3 190.8 365.2 190.1Z" fill="#F4A582"/>
<path d="M307.4 177.5C307.8 176.6 309.5 175.3 310.8 174.8C312.1 174.4 314.2 174.2 315.2 174.8C316.2 175.5 317.2 177.6 316.7 178.6C316.2 179.6 313.4 180.3 312 180.6C310.7 180.8 309.1 180.6 308.3 180.1C307.5 179.6 307 178.3 307.4 177.5Z" fill="#F4A582"/>
<path d="M239.9 122.1C240.2 121.4 241.7 120.5 242.8 120.5C243.9 120.5 245.9 121.4 246.3 122.1C246.7 122.8 245.8 124.4 244.9 124.8C244.1 125.3 242 125.3 241.2 124.8C240.3 124.4 239.7 122.8 239.9 122.1Z" fill="#F4A582"/>
<path d="M208.3 76.1C208.3 76.1 210.6 90.7 212 94.8C213.5 99 215.7 99 217 101.1C218.4 103.2 220.6 105.3 220.2 107.3C219.8 109.4 216.7 111.7 214.5 113.6C212.4 115.5 209.5 116.8 207 118.6C204.5 120.4 202.3 122.6 199.5 124.2C196.8 125.9 193.9 127.3 190.8 128.6C187.7 129.9 184.1 131 180.8 132.1C177.5 133.2 173.9 134.3 170.8 135.1C167.7 135.9 165 137 162 137.1C159.1 137.2 156 136.6 153.3 135.8C150.6 135.1 148.3 133.7 145.8 132.6C143.3 131.5 140.4 129.4 138.3 129.2C136.2 129.1 134.2 130.6 133.3 131.7C132.4 132.9 132.3 134.5 132.7 136.1C133.1 137.7 134.4 139.4 135.8 141.1C137.2 142.8 139.1 144.4 140.8 146.1C142.5 147.8 144.1 149.5 145.8 151.1C147.5 152.7 149.1 154 150.8 155.5C152.5 156.9 154.1 158.6 155.8 159.8C157.5 161.1 159.1 161.9 160.8 163C162.5 164 163.7 165 165.8 166.1C167.9 167.2 172 161.9 173.3 169.8C174.5 177.8 173.3 213.6 173.3 213.6L-79.2 213.6L-79.2 -36.4L208.3 -36.4L208.3 76.1Z" fill="#F4A582"/>
<path d="M41.8 50.3C41.8 50.3 41.5 56.8 41.8 59.7C42.1 62.6 42.2 66.3 43.7 67.8C45.1 69.4 47.9 68.4 50.5 69.1C53.2 69.8 56.6 71.1 59.3 72.2C62 73.4 64.6 74.5 66.8 76C69 77.4 71.2 79.4 72.4 81C73.7 82.5 74.5 83.6 74.3 85.3C74.1 87.1 72.5 89.5 71.2 91.6C69.8 93.7 67.7 95.8 66.2 97.8C64.6 99.9 62.9 101.8 61.8 104.1C60.7 106.4 64.7 109.3 59.3 111.6C53.9 113.9 36.4 116.8 29.3 117.8C22.2 118.9 21.2 118.1 16.8 118.1C12.4 118.1 8.3 117.9 3 117.8C-2.2 117.8 -14.5 117.8 -14.5 117.8L-14.5 50.3L41.8 50.3Z" fill="#D6604D"/>
<path d="M109.3 63.5C104 65.4 104.1 68.2 101.8 70.3C99.5 72.5 97.4 74.3 95.5 76.6C93.7 78.9 92.5 81.4 90.5 84.1C88.6 86.8 84 90.3 84 92.8C84 95.3 88.4 97 90.5 99.1C92.7 101.2 95.1 103.3 96.8 105.3C98.5 107.4 99.3 109.5 100.5 111.6C101.8 113.7 102.6 116.3 104.3 117.8C106 119.4 108 120.1 110.8 120.8C113.5 121.6 117.5 121.6 120.8 122.3C124.1 123.1 127.7 124.4 130.8 125.5C133.9 126.5 136.4 127.6 139.5 128.6C142.7 129.6 146.2 131.1 149.5 131.7C152.9 132.3 156.4 132.6 159.5 132.3C162.7 132.1 165.4 131.3 168.3 130.5C171.2 129.6 174.1 128.3 177 127.3C180 126.4 182.9 125.8 185.8 124.8C188.7 123.9 192 123.2 194.5 121.7C197 120.3 199.2 118.3 200.8 116.1C202.4 113.9 203.7 111.1 204.3 108.6C204.9 106.1 204.9 103.4 204.5 101.1C204.2 98.8 203.1 96.9 202 94.8C201 92.8 201.4 92.6 198.3 88.6C195.2 84.6 183.3 71.1 183.3 71.1L133.3 58.6C133.3 58.6 114.5 61.5 109.3 63.5Z" fill="#D6604D"/>
<path d="M104.3 117.8C106.2 118.4 108.7 119.5 110.8 120.8C112.9 122.2 115 124.3 117 126.1C119.1 127.9 121.3 129.7 123.3 131.7C125.3 133.7 127.2 136 128.9 138C130.7 140 132.3 141.8 133.9 143.6C135.6 145.4 137.2 146.9 138.9 148.6C140.7 150.3 142.6 152 144.5 153.6C146.5 155.2 148.6 156.8 150.8 158.3C153 159.9 157.7 160.4 157.7 163C157.7 165.5 150.8 173.6 150.8 173.6L108.3 153.6C108.3 153.6 97.3 134.6 95.8 128.6C94.3 122.6 98.1 119.1 99.5 117.3C101 115.6 102.4 117.3 104.3 117.8Z" fill="#D6604D"/>
<path d="M34.9 50.3C34.9 50.3 35 56.7 34.9 59.7C34.8 62.7 32.7 66.7 34.3 68.5C35.9 70.2 41.4 69.8 44.3 70.3C47.2 70.9 49.3 70.9 51.8 71.6C54.3 72.3 57.2 73.6 59.3 74.7C61.4 75.9 62.8 77.1 64.3 78.5C65.8 79.8 67.3 81.5 68 82.8C68.8 84.2 69.1 84.9 68.7 86.6C68.3 88.3 66.9 90.8 65.5 92.8C64.2 94.9 62 97 60.5 99.1C59.1 101.2 57.9 103.4 56.8 105.3C55.7 107.3 57.6 109.3 53.7 111C49.7 112.6 39.2 114.9 33 115.3C26.9 115.8 22.2 114.3 16.8 113.8C11.4 113.4 5.8 113.1 0.5 112.8C-4.7 112.6 -14.5 112.6 -14.5 112.6L-14.5 50.3L34.9 50.3Z" fill="#B2182B"/>
<path d="M111.2 66.6C106.1 69.2 105.2 71.8 103 74.1C100.9 76.4 99.5 78.3 98 80.3C96.6 82.4 95.5 84.5 94.3 86.6C93.1 88.7 90.6 90.8 90.8 92.8C91 94.9 93.9 97 95.5 99.1C97.2 101.2 99.2 103.3 100.5 105.3C101.9 107.4 102.7 109.5 103.7 111.6C104.6 113.7 104.4 116.5 106.2 117.8C108 119.2 111.1 119.1 114.5 119.8C118 120.6 122.9 121.4 127 122.3C131.2 123.3 135.4 124.5 139.5 125.5C143.7 126.4 148.3 127.9 152 128C155.8 128.1 158.5 127 162 126.1C165.6 125.2 169.8 123.4 173.3 122.3C176.8 121.3 180.2 120.7 183.3 119.8C186.4 119 189.8 118.8 192 117.3C194.3 115.9 196.1 113.4 197 111.1C198 108.8 197.9 105.9 197.7 103.6C197.5 101.3 196.7 99.2 195.8 97.3C194.9 95.5 194.1 97 192 92.6C190 88.2 183.3 71.1 183.3 71.1L133.3 58.6C133.3 58.6 116.2 64 111.2 66.6Z" fill="#B2182B"/>
<path d="M106.2 117.8C107.2 118.1 105.9 117.4 107 118.6C108.2 119.8 111.2 122.8 113.3 124.8C115.4 126.9 117.6 129 119.5 131.1C121.5 133.2 123.3 135.3 125.2 137.3C127 139.4 128.9 141.6 130.8 143.6C132.7 145.6 134.5 147.5 136.4 149.2C138.3 151 140.1 152.6 142 154.2C144 155.9 146.3 157.8 148.3 159.2C150.3 160.7 154.3 160.6 153.9 163C153.5 165.4 153.4 175.2 145.8 173.6C138.2 172 116.6 161.1 108.3 153.6C100 146.1 97 134.6 95.8 128.6C94.5 122.6 99.1 119.1 100.8 117.3C102.5 115.6 105.1 117.6 106.2 117.8Z" fill="#B2182B"/>
<path d="M28 50.3C35.1 52.1 28 57.8 28 61C28 64.1 25.8 67.1 28 69.1C30.3 71.1 38 71.9 41.8 72.8C45.5 73.8 48 73.9 50.5 74.7C53 75.6 54.9 76.7 56.8 77.8C58.7 79 60.7 80.3 61.8 81.6C62.9 82.8 63.7 83.9 63.7 85.3C63.7 86.8 62.9 88.5 61.8 90.3C60.7 92.2 58.3 94.5 56.8 96.6C55.3 98.7 54.1 100.8 53 102.8C52 104.9 53.7 107.5 50.5 109.1C47.4 110.7 39.9 112.1 34.3 112.2C28.7 112.3 22.4 110.4 16.8 109.7C11.2 109 5.8 108.4 0.5 108.1C-4.7 107.8 -14.5 107.8 -14.5 107.8L-14.5 50.3C-14.5 50.3 21 48.6 28 50.3Z" fill="#67001F"/>
<path d="M112.4 68.5C107.7 71.4 106.9 73.6 104.9 76C102.9 78.4 101.5 80.7 100.3 82.8C99.1 85 98.3 87.2 97.8 89.1C97.3 91 96.6 92.2 97 94.1C97.5 96 99.3 98.1 100.5 100.3C101.8 102.6 103.3 105.6 104.3 107.8C105.3 110.1 105.9 112.4 106.8 114.1C107.7 115.8 108.6 117.3 109.9 117.8C111.2 118.4 111.7 117.4 114.5 117.6C117.4 117.8 122.9 118.5 127 119.2C131.2 119.9 135.4 120.9 139.5 121.7C143.7 122.6 148.5 124.1 152 124.2C155.6 124.3 157.7 123.3 160.8 122.3C163.9 121.4 167.5 119.6 170.8 118.6C174.1 117.6 177.9 116.9 180.8 116.1C183.7 115.3 186.4 114.8 188.3 113.6C190.2 112.3 191.3 110.5 192 108.6C192.8 106.7 192.9 104.4 192.7 102.3C192.5 100.3 191.9 97.7 190.8 96.1C189.7 94.5 187.9 93.4 185.8 92.6C183.7 91.8 180.8 94.9 178.3 91.3C175.8 87.8 178.3 76.6 170.8 71.1C163.3 65.6 143 59 133.3 58.6C123.6 58.2 117.2 65.6 112.4 68.5Z" fill="#67001F"/>
<path d="M106.8 114.1C108.3 114.4 109.3 115.8 109.9 117.8C110.6 119.8 109.7 123.7 110.8 126.1C111.9 128.5 114.5 130.3 116.4 132.3C118.3 134.4 120.1 136.5 122 138.6C124 140.7 126.3 142.9 128.3 144.8C130.3 146.8 132 148.7 133.9 150.5C135.8 152.2 137.7 153.9 139.5 155.5C141.4 157 145.4 157.2 145.2 159.8C145 162.5 144.4 172.1 138.3 171.1C132.2 170.1 115.4 160.7 108.3 153.6C101.2 146.5 97 134.8 95.8 128.6C94.5 122.3 99 118.5 100.8 116.1C102.6 113.7 105.3 113.8 106.8 114.1Z" fill="#67001F"/>
<path d="M10.5 124.7C11 123.2 14.3 122.5 16.8 121.6C19.3 120.7 23.6 119.3 25.5 119.5C27.5 119.7 28.7 121.4 28.3 122.8C27.9 124.3 25.4 126.8 23 128.1C20.7 129.4 16.4 131.2 14.3 130.6C12.2 130 10.1 126.2 10.5 124.7Z" fill="#FDDBC7"/>
<path d="M66.8 99.7C67 98.8 70.5 98.9 73 99.1C75.5 99.3 78.9 100.1 81.8 101C84.7 101.8 88.3 103 90.5 104.1C92.8 105.2 94.6 106.6 95 107.8C95.5 109.1 94.4 111.1 93 111.8C91.7 112.6 89.1 112.9 86.8 112.5C84.5 112.1 81.8 110.7 79.3 109.3C76.8 108 73.9 106 71.8 104.3C69.7 102.7 66.6 100.6 66.8 99.7Z" fill="#FDDBC7"/>
<path d="M120.8 121.3C121 120.8 122.3 120.8 123 120.8C123.8 120.9 125 121.4 125.3 121.8C125.6 122.3 125.3 123.3 124.8 123.6C124.3 123.9 122.7 124.2 122 123.8C121.4 123.5 120.6 121.8 120.8 121.3Z" fill="#FDDBC7"/>
<path d="M48.7 50.3C48.7 50.3 47.3 55.8 48.7 58.5C50 61.2 53.8 64.2 56.8 66.6C59.8 69 63.5 70.6 66.8 72.8C70.1 75.1 74.4 78.4 76.8 80.3C79.2 82.3 79.3 84.8 81.2 84.3C83 83.9 85.4 80.2 88 77.8C90.7 75.5 94.1 72.2 96.8 70.3C99.5 68.5 102.3 67.5 104.3 66.6C106.3 65.7 107.9 67.6 108.7 64.8C109.4 62.1 108.7 50.3 108.7 50.3L48.7 50.3Z" fill="#FDDBC7"/>
<path d="M53 50.3C53 50.3 52 55.1 53 57.2C54.1 59.3 57 61.1 59.3 62.8C61.6 64.6 64.3 66.2 66.8 67.8C69.3 69.5 72 71.2 74.3 72.8C76.6 74.5 78.7 77.5 80.8 77.5C82.9 77.5 84.5 74.5 86.8 72.8C89 71.2 91.8 69.2 94.3 67.8C96.8 66.5 100 67.6 101.8 64.7C103.6 61.8 104.9 50.3 104.9 50.3L53 50.3Z" fill="#D1E5F0"/>
<path d="M56.8 50.3C49.3 51.4 55.8 54.7 56.8 56.6C57.8 58.5 60.8 60 63 61.6C65.3 63.2 68 64.5 70.5 66C73 67.4 76.3 69.3 78 70.3C79.8 71.4 79.7 72.7 81.2 72.5C82.6 72.3 84.6 70.3 86.8 69.1C89 67.9 91.9 66.3 94.3 65.3C96.7 64.4 100 65.8 101.3 63.3C102.5 60.8 109.2 52.5 101.8 50.3C94.4 48.2 64.3 49.3 56.8 50.3Z" fill="#92C5DE"/>
<path d="M59.9 50.3C53 51.3 59 54.4 59.9 56C60.9 57.5 63.6 58.5 65.5 59.7C67.5 61 69.5 62.2 71.8 63.5C74.1 64.7 77.4 66.4 79.3 67.2C81.2 68 81.4 68.4 83 68.2C84.7 68 87 66.8 89.3 66C91.6 65.2 94.9 64.1 96.8 63.5C98.7 62.8 100.1 64.3 100.8 62.1C101.5 59.9 108 52.3 101.2 50.3C94.4 48.4 66.8 49.4 59.9 50.3Z" fill="#4393C3"/>
<path d="M62.4 50.3C56.1 51.2 61.5 54 62.4 55.3C63.4 56.7 66.1 57.4 68 58.5C70 59.5 72.2 60.6 74.3 61.6C76.4 62.6 78.7 63.8 80.5 64.3C82.4 64.9 83.7 65.1 85.5 64.8C87.4 64.6 89.3 63.8 91.8 63.1C94.3 62.4 98.8 62.8 100.3 60.7C101.8 58.6 106.9 52.1 100.5 50.3C94.2 48.6 68.8 49.5 62.4 50.3Z" fill="#2166AC"/>
<path d="M65.5 46.6C71.6 48 64.5 52.8 65.5 54.7C66.6 56.6 69.7 56.9 71.8 57.8C73.9 58.8 76 59.7 78 60.3C80.1 61 82 61.6 84.3 61.7C86.6 61.8 89.1 61.4 91.8 61C94.5 60.6 94 61 100.3 59.2C106.5 57.5 129.3 50.3 129.3 50.3L266.8 39.1L266.8 -18.4L29.3 -18.4L29.3 46.6C29.3 46.6 59.5 45.2 65.5 46.6Z" fill="#053061"/>
<path d="M298 58.6C298 58.6 296.6 69.6 296.2 73.6C295.8 77.6 296.3 80.2 295.5 82.3C294.8 84.5 293.7 85.9 291.8 86.7C289.9 87.6 286.8 87.5 284.3 87.3C281.8 87.2 279.3 86.5 276.8 86.1C274.3 85.7 271.8 85.3 269.3 84.8C266.8 84.4 264.1 84.4 261.8 83.6C259.5 82.8 257.4 81.1 255.5 79.8C253.7 78.6 252.4 77 250.5 76.1C248.7 75.2 247 74.6 244.3 74.6C241.6 74.6 237 75 234.3 76.1C231.6 77.2 229.4 79.2 228 81.1C226.7 83 226.3 85.3 226.2 87.3C226.1 89.4 226.5 91.5 227.4 93.6C228.4 95.7 230 98 231.8 99.8C233.6 101.7 235.8 103.4 238 104.8C240.3 106.3 243 107.5 245.5 108.6C248 109.7 251.3 110.5 253 111.7C254.8 113 255.8 114.3 256.2 116.1C256.6 117.9 256.3 120.3 255.5 122.3C254.8 124.4 253.5 126.8 251.8 128.6C250.1 130.4 247.8 131.6 245.5 133C243.3 134.3 240.8 135.8 238 136.7C235.3 137.7 231.8 138.9 229.3 138.6C226.8 138.3 225.1 136 223 134.8C221 133.7 218.9 131.9 216.8 131.7C214.7 131.5 212.1 132.2 210.5 133.6C209 135 207.9 137.3 207.4 139.8C206.9 142.3 207.1 145.9 207.4 148.6C207.7 151.3 208.4 153.6 209.3 156.1C210.2 158.6 211.4 161.3 213 163.6C214.7 165.9 217 167.9 219.3 169.8C221.6 171.8 224.3 173.8 226.8 175.5C229.3 177.1 231.6 178.4 234.3 179.8C237 181.3 239.9 183 243 184.2C246.2 185.5 249.5 186.5 253 187.3C256.6 188.2 260.3 188.8 264.3 189.2C268.3 189.6 272.6 190.1 276.8 189.8C281 189.6 286.1 189.3 289.3 188C292.5 186.6 293.9 183.3 295.8 181.6C297.7 179.9 298.9 179.3 300.8 177.8C302.7 176.4 305 174.2 307 172.8C309.1 171.5 311 170.5 313.3 169.7C315.6 169 318.1 168.7 320.8 168.5C323.5 168.3 326.8 168.1 329.5 168.5C332.3 168.9 334.5 169.8 337 171C339.5 172.1 342 173.8 344.5 175.3C347 176.9 350 179.1 352 180.3C354.1 181.6 355.2 182.8 357 182.8C358.9 182.8 361 181.3 363.3 180.3C365.6 179.4 368.3 178.1 370.8 177.2C373.3 176.4 375.8 175.6 378.3 175.3C380.8 175.1 383.7 175.1 385.8 176C387.9 176.8 389.3 178.6 390.8 180.3C392.3 182.1 393.5 186 394.5 186.6C395.6 187.2 396.6 185.6 397.3 184.1C398 182.6 398 179.9 398.5 177.8C399.1 175.8 399.8 173.3 400.4 171.6C401 169.9 398.9 170.3 402.3 167.8C405.7 165.3 420.8 156.6 420.8 156.6L433.3 56.6L298 58.6Z" fill="#92C5DE"/>
<path d="M165.8 151.1C166.4 150.3 170.4 149.3 173.3 148.6C176.2 147.9 180 147 183.3 146.7C186.6 146.4 190.9 146.2 193.3 146.7C195.7 147.2 197 148.1 197.7 149.8C198.3 151.6 197.8 155.1 197 157.3C196.3 159.6 194.8 162.2 193.3 163.6C191.8 165 190.2 165.7 188.3 165.5C186.4 165.3 184.1 163.7 182 162.3C180 161 177.9 158.8 175.8 157.3C173.7 155.9 171.2 154.6 169.5 153.6C167.9 152.6 165.2 151.9 165.8 151.1Z" fill="#92C5DE"/>
<path d="M184.3 146.1C186 143.1 192.1 146.3 194.3 147.3C196.5 148.4 197.1 150.3 197.5 152.3C198 154.4 197.5 157.8 196.8 159.8C196 161.8 195.1 163.5 193 164.3C191 165.2 185.8 168.1 184.3 165.1C182.8 162.1 182.6 149.1 184.3 146.1Z" fill="#92C5DE"/>
<path d="M304.9 58.6C304.9 58.6 303.3 71.7 303 76.1C302.8 80.5 303.5 82.2 303.7 84.8C303.9 87.5 306.3 90.4 304.3 91.7C302.3 93.1 296 92.7 291.8 93C287.6 93.3 283.5 93.6 279.3 93.6C275.1 93.6 270.1 93 266.8 93C263.5 93 261.4 94.3 259.3 93.6C257.2 92.9 255.8 90.5 254.3 88.6C252.8 86.7 252.2 83.8 250.5 82.3C248.9 80.8 246.6 79.8 244.3 79.6C242 79.4 238.6 79.9 236.8 81.1C235 82.3 234 84.8 233.7 86.7C233.4 88.6 234 90.7 234.9 92.3C235.9 94 237.7 95.3 239.3 96.7C240.9 98.2 242.4 99.7 244.3 101.1C246.2 102.5 248.5 103.8 250.5 104.8C252.6 105.9 255.2 106.1 256.8 107.3C258.4 108.6 259.4 110.5 259.9 112.3C260.4 114.2 260.3 116.3 259.9 118.6C259.5 120.9 258.8 123.8 257.4 126.1C256.1 128.4 253.8 130.5 251.8 132.3C249.8 134.2 247.8 135.8 245.5 137.3C243.3 138.9 240.8 140.5 238 141.7C235.3 143 232.4 143.7 229.3 144.8C226.2 146 221.3 147.1 219.3 148.6C217.3 150.1 217.5 151.7 217.4 153.6C217.3 155.5 217.7 157.8 218.7 159.8C219.6 161.9 221.3 164.2 223 166.1C224.8 168 227 169.4 229.3 171.1C231.6 172.8 234.1 174.4 236.8 176.1C239.5 177.8 242.6 179.7 245.5 181.1C248.5 182.5 251.2 183.4 254.3 184.2C257.4 185.1 260.5 185.7 264.3 186.1C268 186.5 272.6 186.9 276.8 186.7C281 186.5 286.1 186.4 289.3 184.8C292.5 183.3 293.7 179.2 295.8 177.2C297.9 175.2 299.8 174.3 302 172.8C304.3 171.4 306.8 169.8 309.5 168.5C312.3 167.2 315.2 165.8 318.3 165.1C321.4 164.4 325.2 164 328.3 164.1C331.4 164.2 334.1 165 337 166C340 166.9 342.9 168.6 345.8 169.7C348.7 170.9 351.6 172.3 354.5 172.8C357.5 173.4 360.2 173.3 363.3 172.8C366.4 172.4 370 171.2 373.3 170.3C376.6 169.5 380.2 168.6 383.3 167.8C386.4 167.1 389.3 166.7 392 166C394.8 165.2 397.4 164.4 399.5 163.5C401.7 162.5 401.3 161.9 404.8 160.3C408.3 158.8 420.8 154.1 420.8 154.1L433.3 56.6L304.9 58.6Z" fill="#4393C3"/>
<path d="M310.5 58.6C310.5 58.6 308.9 71.5 308.7 76.1C308.5 80.7 308.9 83.3 309.3 86.1C309.7 88.9 311.4 91.3 311.2 93C311 94.7 310.2 95.6 308 96.3C305.9 97.1 301.8 97 298 97.3C294.3 97.7 289.1 98 285.5 98.3C282 98.7 279.5 98.8 276.8 99.2C274.1 99.7 271.2 100 269.3 101.1C267.4 102.2 266.5 104 265.5 106.1C264.6 108.2 264.3 111.1 263.7 113.6C263 116.1 262.5 118.6 261.8 121.1C261.1 123.6 260.5 126.3 259.3 128.6C258 130.9 256.2 133 254.3 134.8C252.4 136.7 250.1 138.4 248 139.8C246 141.3 244.1 142.3 241.8 143.6C239.5 144.8 236.1 145.7 234.3 147.3C232.5 149 231.6 151.5 231.2 153.6C230.8 155.7 230.9 157.8 231.8 159.8C232.7 161.9 234.9 164.2 236.8 166.1C238.7 168 240.8 169.4 243 171.1C245.3 172.8 248 174.6 250.5 176.1C253 177.6 255.3 178.8 258 179.8C260.8 180.9 263.7 181.8 266.8 182.3C269.9 182.9 273.5 183.5 276.8 183.3C280.1 183.2 283.6 183.5 286.8 181.7C290 180 293 175.1 295.8 172.8C298.5 170.6 300.6 169.9 303.3 168.5C306 167.1 309.1 165.5 312 164.3C315 163.2 317.7 162.3 320.8 161.6C323.9 160.9 327.7 160.3 330.8 160.3C333.9 160.3 336.6 160.9 339.5 161.6C342.5 162.3 345.4 163.8 348.3 164.7C351.2 165.7 354.1 166.9 357 167.2C360 167.5 362.9 167 365.8 166.6C368.7 166.2 371.6 165.3 374.5 164.7C377.5 164.1 380.2 163.5 383.3 162.8C386.4 162.2 390.2 161.7 393.3 161C396.4 160.2 399.5 159.3 402 158.5C404.6 157.6 405.4 157.3 408.5 156C411.7 154.6 420.8 150.3 420.8 150.3L433.3 56.6L310.5 58.6Z" fill="#2166AC"/>
<path d="M316.8 58.6C316.8 58.6 315.2 71.5 314.9 76.1C314.7 80.7 315.1 83.2 315.3 86.1C315.5 89 316.8 91.6 316.2 93.6C315.6 95.6 314.8 97 311.8 98C308.8 98.9 302.4 98.9 298 99.2C293.7 99.6 288.9 99.7 285.5 100.1C282.2 100.5 280.1 100.9 278 101.7C276 102.5 274.5 103.3 273 104.8C271.6 106.4 270.2 108.8 269.3 111.1C268.4 113.4 268 116.1 267.4 118.6C266.8 121.1 266.5 123.6 265.5 126.1C264.6 128.6 263.7 131.1 261.8 133.6C259.9 136.1 256.8 139 254.3 141.1C251.8 143.2 249.1 144.6 246.8 146.1C244.5 147.6 241.5 148.2 240.5 149.8C239.6 151.5 240.3 154 241.2 156.1C242 158.2 243.8 160.3 245.5 162.3C247.3 164.4 249.7 166.7 251.8 168.6C253.9 170.5 256 172.1 258 173.6C260.1 175.1 261.8 176.4 264.3 177.3C266.8 178.3 270.1 178.9 273 179.2C276 179.5 278 181.1 281.8 179.2C285.6 177.4 292.2 170.6 295.8 168.1C299.4 165.6 300.6 165.4 303.3 164.1C306 162.8 309.1 161.4 312 160.3C315 159.3 317.7 158.6 320.8 157.8C323.9 157.1 327.7 156.1 330.8 156C333.9 155.9 336.6 156.5 339.5 157.2C342.5 158 345.4 159.5 348.3 160.3C351.2 161.2 354.1 162 357 162.2C360 162.4 362.9 162 365.8 161.6C368.7 161.2 371.6 160.3 374.5 159.7C377.5 159.1 380.2 158.5 383.3 157.8C386.4 157.2 390 156.6 393.3 156C396.6 155.3 400.4 154.6 403.3 154.1C406.2 153.6 408.7 153.5 410.8 152.8C412.9 152.2 412.3 151.8 416 150.3C419.8 148.9 433.3 144.1 433.3 144.1L433.3 56.6L316.8 58.6Z" fill="#053061"/>
<path d="M207.8 8.3C207.8 9.9 213.1 13.9 215.3 16.5C217.5 19.1 219.5 21.6 220.9 24C222.4 26.4 218.7 29.7 224 30.8C229.4 32 248 35 252.8 30.8C257.6 26.7 259 9.8 252.8 5.8C246.5 1.9 222.8 6.7 215.3 7.1C207.8 7.5 207.8 6.8 207.8 8.3Z" fill="#2166AC"/>
<path d="M215.3 9.6C210.2 11.5 220.2 14.8 222.2 17.1C224.2 19.4 226 21.4 227.2 23.3C228.4 25.3 225 27.3 229.3 28.6C233.6 29.8 248.9 34.6 252.8 30.8C256.7 27.1 259 9.4 252.8 5.8C246.5 2.3 220.4 7.7 215.3 9.6Z" fill="#4393C3"/>
<path d="M180.3 -1.7C182.2 -2.5 189.9 -2.9 192.8 -1.7C195.7 -0.4 195.7 3.8 197.8 5.8C199.9 7.9 203.4 9.5 205.3 10.8C207.2 12.2 209.5 13.6 209 14C208.6 14.4 205.1 14.1 202.8 13.3C200.5 12.6 198 10.8 195.3 9.6C192.6 8.3 188.8 6.9 186.5 5.8C184.3 4.8 182.6 4.6 181.5 3.3C180.5 2.1 178.4 -0.8 180.3 -1.7Z" fill="#2166AC"/>
<path d="M181.5 -1.7C182.8 -2.4 189.2 -2.8 191.5 -1.7C193.9 -0.5 194 3.2 195.9 5.2C197.8 7.2 202.5 9.5 202.8 10.2C203.1 11 199.9 10.3 197.8 9.6C195.7 8.9 192.6 7 190.3 5.8C188 4.7 185.5 4 184 2.7C182.6 1.5 180.3 -0.9 181.5 -1.7Z" fill="#4393C3"/>
<path d="M182.8 -1.7C183.6 -2.2 188.4 -2.7 190.3 -1.7C192.2 -0.6 192.8 3 194 4.6C195.3 6.2 198.4 7.7 197.8 7.7C197.2 7.7 192.4 5.6 190.3 4.6C188.2 3.6 186.5 2.9 185.3 1.8C184 0.8 182 -1.1 182.8 -1.7Z" fill="#92C5DE"/>
<path d="M142.8 -1.7C145.1 -2.7 157.8 -2.5 160.3 -1.7C162.8 -0.8 159 2.1 157.8 3.3C156.5 4.6 154.7 5.6 152.8 5.8C150.9 6.1 148.2 5.8 146.5 4.6C144.9 3.3 140.5 -0.6 142.8 -1.7Z" fill="#4393C3"/>
<path d="M144 -1.7C145.3 -2.5 153.8 -2.4 155.3 -1.7C156.8 -0.9 154 2.3 152.8 3.1C151.5 3.9 149.3 4.1 147.8 3.3C146.3 2.6 142.8 -0.8 144 -1.7Z" fill="#92C5DE"/>
<path d="M146.5 39.8C144.5 38.8 150.1 36.2 152.8 34.8C155.5 33.5 159.5 32.5 162.8 31.7C166.1 31 169.9 30.8 172.8 30.5C175.7 30.2 179.5 28.7 180.3 29.8C181.1 31 180.3 35.3 177.8 37.1C175.3 38.9 170.5 40.4 165.3 40.8C160.1 41.3 148.6 40.8 146.5 39.8Z" fill="#2166AC"/>
<path d="M150.3 38.6C148.8 37.8 154 35.8 156.5 34.8C159 33.8 162.4 33.1 165.3 32.6C168.2 32.1 172.4 31 174 31.7C175.7 32.5 176.8 35.7 175.3 37.1C173.8 38.5 169.5 39.6 165.3 39.8C161.1 40.1 151.8 39.4 150.3 38.6Z" fill="#4393C3"/>
<path d="M153.4 37.8C151.5 37.6 156.7 36.2 159 35.5C161.4 34.8 165.9 33.3 167.8 33.6C169.7 33.9 172.7 36.4 170.3 37.1C167.9 37.8 155.3 38.1 153.4 37.8Z" fill="#92C5DE"/>
<path d="M126.5 46.1C126.8 44.8 131.8 43.2 134 42.3C136.3 41.5 139 40.3 140.3 41.1C141.5 41.9 142.8 45.9 141.5 47.3C140.3 48.8 135.3 50.1 132.8 49.8C130.3 49.6 126.3 47.3 126.5 46.1Z" fill="#4393C3"/>
<path d="M41.8 24.1C45.1 19.9 59 20.8 61.8 24.1C64.6 27.4 62 39.9 58.7 44.1C55.3 48.3 44.6 52.4 41.8 49.1C39 45.8 38.5 28.3 41.8 24.1Z" fill="#2166AC"/>
<path d="M41.8 24.1C44.7 19.9 56.8 20.8 59.3 24.1C61.8 27.4 59.5 39.9 56.5 44.1C53.6 48.3 44.3 52.4 41.8 49.1C39.3 45.8 38.9 28.3 41.8 24.1Z" fill="#4393C3"/>
<path d="M41.8 24.1C44.3 19.9 54.9 20.8 57 24.1C59.2 27.4 57.1 39.9 54.5 44.1C52 48.3 43.9 52.4 41.8 49.1C39.7 45.8 39.3 28.3 41.8 24.1Z" fill="#92C5DE"/>
<path d="M41.8 24.1C44 19.9 53.1 20.8 54.9 24.1C56.7 27.4 54.7 39.9 52.5 44.1C50.4 48.3 43.6 52.4 41.8 49.1C40 45.8 39.6 28.3 41.8 24.1Z" fill="#D1E5F0"/>
<path d="M41.8 24.1C43.7 19.9 51.6 20.8 53 24.1C54.5 27.4 52.2 39.9 50.3 44.1C48.4 48.3 43.2 52.4 41.8 49.1C40.4 45.8 39.9 28.3 41.8 24.1Z" fill="#FDDBC7"/>
</g>
<use href="#ol" fill="none" stroke="#000" stroke-width="2.8" stroke-linejoin="round"/>
</g>
<circle cx="358.7" cy="59.6" r="3.95"/>
<circle cx="326.1" cy="70.4" r="3.95"/>
<circle cx="347.8" cy="70.4" r="3.95"/>
<circle cx="369.6" cy="70.4" r="3.95"/>
<circle cx="337" cy="81.3" r="3.95"/>
<circle cx="358.7" cy="81.3" r="3.95"/>
<circle cx="380.4" cy="81.3" r="3.95"/>
<circle cx="402.1" cy="81.3" r="3.95"/>
<circle cx="326.1" cy="92.1" r="3.95"/>
<circle cx="347.8" cy="92.1" r="3.95"/>
<circle cx="369.6" cy="92.1" r="3.95"/>
<circle cx="391.3" cy="92.1" r="3.95"/>
<circle cx="337" cy="103" r="3.95"/>
<circle cx="358.7" cy="103" r="3.95"/>
<circle cx="380.4" cy="103" r="3.95"/>
<circle cx="402.1" cy="103" r="3.95"/>
<circle cx="326.1" cy="113.8" r="3.95"/>
<circle cx="347.8" cy="113.8" r="3.95"/>
<circle cx="369.6" cy="113.8" r="3.95"/>
<circle cx="391.3" cy="113.8" r="3.95"/>
<circle cx="413" cy="113.8" r="3.95"/>
<circle cx="293.5" cy="124.7" r="3.95"/>
<circle cx="315.2" cy="124.7" r="3.95"/>
<circle cx="337" cy="124.7" r="3.95"/>
<circle cx="358.7" cy="124.7" r="3.95"/>
<circle cx="380.4" cy="124.7" r="3.95"/>
<circle cx="402.1" cy="124.7" r="3.95"/>
<circle cx="282.7" cy="135.5" r="3.95"/>
<circle cx="304.4" cy="135.5" r="3.95"/>
<circle cx="326.1" cy="135.5" r="3.95"/>
<circle cx="347.8" cy="135.5" r="3.95"/>
<circle cx="369.6" cy="135.5" r="3.95"/>
<circle cx="391.3" cy="135.5" r="3.95"/>
<circle cx="413" cy="135.5" r="3.95"/>
<circle cx="358.7" cy="146.3" r="3.95"/>
<circle cx="402.1" cy="146.3" r="3.95"/>
<circle cx="87.1" cy="27.1" r="3.95"/>
<circle cx="108.9" cy="27.1" r="3.95"/>
<circle cx="98" cy="37.9" r="3.95"/>
<circle cx="119.7" cy="37.9" r="3.95"/>
<circle cx="108.9" cy="48.7" r="3.95"/>
<circle cx="141.4" cy="37.9" r="3.95"/>
<circle cx="130.6" cy="27.1" r="3.95"/>
<circle cx="152.3" cy="27.1" r="3.95"/>
<circle cx="174" cy="27.1" r="3.95"/>
<circle cx="195.8" cy="27.1" r="3.95"/>
<circle cx="206.6" cy="16.2" r="3.95"/>
<circle cx="217.5" cy="27.1" r="3.95"/>
<circle cx="108.9" cy="92.1" r="3.95"/>
<circle cx="130.6" cy="92.1" r="3.95"/>
<circle cx="119.7" cy="103" r="3.95"/>
<circle cx="141.4" cy="103" r="3.95"/>
<circle cx="152.3" cy="92.1" r="3.95"/>
<circle cx="119.7" cy="81.3" r="3.95"/>
<rect x="162.9" y="97.6" width="260.7" height="108.5" fill="none" stroke="#A020F0" stroke-width="3.4" stroke-linejoin="round"/>
<rect x="0" y="0" width="434.5" height="216.9" fill="none" stroke="#000" stroke-width="1.1"/>
<path d="M0 216.9v11.3M10.9 216.9v6M32.6 216.9v6M54.3 216.9v11.3M76 216.9v6M97.8 216.9v6M108.6 216.9v11.3M119.5 216.9v6M141.2 216.9v6M162.9 216.9v11.3M184.7 216.9v6M206.4 216.9v6M217.2 216.9v11.3M228.1 216.9v6M249.8 216.9v6M271.6 216.9v11.3M293.3 216.9v6M315 216.9v6M325.9 216.9v11.3M336.7 216.9v6M358.5 216.9v6M380.2 216.9v11.3M401.9 216.9v6M423.6 216.9v6M434.5 216.9v11.3M0 216.9h-11.3M0 206.1h-6M0 195.2h-6M0 184.4h-6M0 173.5h-6M0 162.7h-11.3M0 151.8h-6M0 141h-6M0 130.1h-6M0 119.3h-6M0 108.5h-11.3M0 97.6h-6M0 86.8h-6M0 75.9h-6M0 65.1h-6M0 54.2h-11.3M0 43.4h-6M0 32.5h-6M0 21.7h-6M0 10.8h-6M0 0h-11.3" stroke="#000" stroke-width="0.85" fill="none"/>
<g style="filter:opacity(1)">
<text x="0" y="246.1" font-size="18.4" text-anchor="middle">65E</text>
<text x="54.3" y="246.1" font-size="18.4" text-anchor="middle">70E</text>
<text x="108.6" y="246.1" font-size="18.4" text-anchor="middle">75E</text>
<text x="162.9" y="246.1" font-size="18.4" text-anchor="middle">80E</text>
<text x="217.2" y="246.1" font-size="18.4" text-anchor="middle">85E</text>
<text x="271.6" y="246.1" font-size="18.4" text-anchor="middle">90E</text>
<text x="325.9" y="246.1" font-size="18.4" text-anchor="middle">95E</text>
<text x="380.2" y="246.1" font-size="18.4" text-anchor="middle">100E</text>
<text x="434.5" y="246.1" font-size="18.4" text-anchor="middle">105E</text>
<text x="-13.9" y="223.5" font-size="18.4" text-anchor="end">25N</text>
<text x="-13.9" y="169.3" font-size="18.4" text-anchor="end">30N</text>
<text x="-13.9" y="115" font-size="18.4" text-anchor="end">35N</text>
<text x="-13.9" y="60.8" font-size="18.4" text-anchor="end">40N</text>
<text x="-13.9" y="6.6" font-size="18.4" text-anchor="end">45N</text>
<text x="-1.2" y="-15.7" font-size="22.2">(b) DLR</text>
<rect x="56.9" y="263" width="32" height="19.2" fill="#053061" stroke="#000" stroke-width="0.7"/>
<rect x="88.9" y="263" width="32" height="19.2" fill="#2166AC" stroke="#000" stroke-width="0.7"/>
<rect x="120.9" y="263" width="32" height="19.2" fill="#4393C3" stroke="#000" stroke-width="0.7"/>
<rect x="152.9" y="263" width="32" height="19.2" fill="#92C5DE" stroke="#000" stroke-width="0.7"/>
<rect x="184.9" y="263" width="32" height="19.2" fill="#D1E5F0" stroke="#000" stroke-width="0.7"/>
<rect x="216.9" y="263" width="32" height="19.2" fill="#FDDBC7" stroke="#000" stroke-width="0.7"/>
<rect x="248.9" y="263" width="32" height="19.2" fill="#F4A582" stroke="#000" stroke-width="0.7"/>
<rect x="280.9" y="263" width="32" height="19.2" fill="#D6604D" stroke="#000" stroke-width="0.7"/>
<rect x="312.9" y="263" width="32" height="19.2" fill="#B2182B" stroke="#000" stroke-width="0.7"/>
<rect x="344.9" y="263" width="32" height="19.2" fill="#67001F" stroke="#000" stroke-width="0.7"/>
<text x="88.9" y="301.6" font-size="18.9" text-anchor="middle">-0.8</text>
<text x="152.9" y="301.6" font-size="18.9" text-anchor="middle">-0.4</text>
<text x="216.9" y="301.6" font-size="18.9" text-anchor="middle">0</text>
<text x="280.9" y="301.6" font-size="18.9" text-anchor="middle">0.4</text>
<text x="344.9" y="301.6" font-size="18.9" text-anchor="middle">0.8</text>
</g>
</g>
<g transform="translate(52.2 547.5)">
<g clip-path="url(#fr)"><g clip-path="url(#cp)">
<rect x="0" y="0" width="434.5" height="216.9" fill="#D1E5F0"/>
<path d="M50.5 44C50.5 44 49.5 55 50.5 58.4C51.6 61.7 54.5 62 56.8 64C59.1 66 62 68 64.3 70.2C66.6 72.5 68.9 75.2 70.5 77.8C72.2 80.2 73.5 83 74.3 85.2C75.1 87.5 76 89.4 75.5 91.5C75.1 93.6 73.3 96 71.8 97.8C70.3 99.5 68.5 98.6 66.8 102.1C65.1 105.7 61.8 119 61.8 119L-20.7 144L-20.7 44L50.5 44Z" fill="#FDDBC7"/>
<path d="M101.8 63.4C101.3 67 99.6 69.5 98.7 72.8C97.7 76 97.3 79.6 96.2 82.8C95 85.9 91.9 88.8 91.8 91.5C91.7 94.2 93.9 96.5 95.5 99C97.2 101.5 99.9 104 101.8 106.5C103.7 109 105.1 112.2 106.8 114C108.5 115.8 109.5 116.7 111.8 117.2C114.1 117.8 117.6 117.5 120.8 117.5C124 117.5 128.1 117.1 130.8 117.2C133.5 117.4 135.2 117.5 137.1 118.5C138.9 119.5 140.4 121.7 142.1 123.5C143.7 125.3 144.8 128.3 147.1 129.1C149.3 130 152.7 128.5 155.8 128.5C158.9 128.5 162.5 128.7 165.8 129.1C169.1 129.5 172.5 130.5 175.8 131C179.1 131.5 182.5 132 185.8 132.2C189.1 132.5 192.9 132.5 195.8 132.2C198.7 132 201.2 132 203.3 131C205.4 130 206.8 127.9 208.3 126C209.8 124.1 210.8 121.8 212.1 119.8C213.3 117.7 214.3 115.6 215.8 113.5C217.3 111.4 219.8 109.5 220.8 107.2C221.8 105 222.3 102.2 222.1 99.8C221.8 97.2 221 94.5 219.6 92.2C218.1 90 214.3 92.9 213.3 86C212.3 79.1 213.3 51 213.3 51L101.8 51C101.8 51 102.3 59.8 101.8 63.4Z" fill="#FDDBC7"/>
<path d="M108.3 124.8C111.4 124.1 112.5 128.1 114.5 129.8C116.6 131.4 118.7 133.1 120.8 134.8C122.9 136.4 125 138.1 127 139.8C129.1 141.4 131.2 143.1 133.3 144.8C135.4 146.4 137.5 148.3 139.6 149.8C141.6 151.2 143.7 152.4 145.8 153.5C147.9 154.6 150 155.7 152.1 156.6C154.1 157.6 156 158 158.3 159.1C160.6 160.3 163.3 161.9 165.8 163.5C168.3 165.1 170.8 167 173.3 168.5C175.8 170 178.3 171.4 180.8 172.2C183.3 173.1 185.8 173.7 188.3 173.5C190.8 173.3 193.5 172.5 195.8 171C198.1 169.5 200.4 166.5 202.1 164.8C203.7 163 204.1 160.8 205.8 160.4C207.5 160 210.8 161.1 212.1 162.2C213.3 163.4 213.8 165.6 213.3 167.2C212.8 168.9 210.6 170.7 208.9 172.2C207.3 173.8 203.4 175.5 203.3 176.6C203.2 177.8 204.9 178.2 208.3 179.1C211.7 180.1 221.2 178.6 223.8 182.2C226.4 185.9 223.8 201 223.8 201L133.3 176L95.8 133.5C95.8 133.5 105.2 125.4 108.3 124.8Z" fill="#FDDBC7"/>
<path d="M166.8 173.5C171 167.2 185.6 175.2 191.8 176C198.1 176.8 200.1 177.7 204.3 178.5C208.5 179.3 212.6 180.3 216.8 181C221 181.7 225.1 182.1 229.3 182.9C233.5 183.6 237.6 184.6 241.8 185.4C246 186.1 250.1 186.8 254.3 187.2C258.5 187.7 262.6 188.2 266.8 188.2C271 188.2 275.1 188 279.3 187.2C283.5 186.5 288.1 185.1 291.8 183.8C295.6 182.4 299.7 180.1 301.8 179.1C303.9 178.1 303.9 172.1 304.3 177.9C304.7 183.6 304.3 213.5 304.3 213.5L166.8 213.5C166.8 213.5 162.6 179.8 166.8 173.5Z" fill="#FDDBC7"/>
<path d="M275.3 187.5C275.3 187.5 284.9 183.5 287.8 181.9C290.7 180.2 290.9 179.1 292.8 177.5C294.7 175.9 296.8 174.1 299.1 172.5C301.3 170.9 303.8 169.2 306.6 168.1C309.3 167.1 312.2 166.7 315.3 166.2C318.4 165.8 322 165.3 325.3 165.6C328.6 165.9 332.2 167.3 335.3 168.1C338.4 169 341.1 169.9 344.1 170.6C347 171.4 349.7 172.3 352.8 172.5C355.9 172.7 359.5 172.1 362.8 171.9C366.1 171.7 369.5 171.2 372.8 171.2C376.1 171.2 379.5 171.6 382.8 171.9C386.1 172.2 389.7 172.6 392.8 173.1C395.9 173.6 396.1 174.5 401.6 175C407 175.5 425.3 176.2 425.3 176.2L425.3 235L275.3 235L275.3 187.5Z" fill="#FDDBC7"/>
<path d="M244.9 80.4C246.2 78.7 250.7 76.4 254.3 74.8C257.9 73.1 262.2 71.3 266.8 70.4C271.4 69.4 277.6 69 281.8 69.1C286 69.2 288.7 68.8 291.8 71C294.9 73.2 297.4 78.5 300.6 82.2C303.7 86 309.3 90.8 310.6 93.5C311.8 96.2 313.3 97.7 308.1 98.8C302.8 99.8 286.2 100.7 279.3 100C272.4 99.3 271 96.5 266.8 94.8C262.6 93 257.6 91.4 254.3 89.8C251 88.1 248.4 86.3 246.8 84.8C245.2 83.2 243.7 82 244.9 80.4Z" fill="#FDDBC7"/>
<path d="M-20.7 44L33 44C33 44 33.3 54.2 33 58.4C32.8 62.5 30.3 67 31.8 69C33.3 71 38.8 70 41.8 70.2C44.8 70.5 47.2 70 49.9 70.2C52.6 70.5 55.4 70.9 58 71.5C60.7 72.1 63.3 72.8 65.5 74C67.8 75.2 70.4 77.1 71.8 79C73.2 80.9 73.7 83 73.7 85.2C73.7 87.5 72.9 90.7 71.8 92.8C70.7 94.8 68.5 96.3 66.8 97.8C65.1 99.2 63.5 100 61.8 101.5C60.1 103 62.2 104 56.8 106.5C51.4 109 34.7 114.6 29.3 116.5C23.9 118.4 26.4 117.8 24.3 117.8C22.2 117.8 19.5 116.9 16.8 116.5C14.1 116.1 10.8 115.6 8 115.2C5.3 114.9 5.3 114.7 0.5 114.6C-4.2 114.5 -20.7 114.6 -20.7 114.6L-20.7 44Z" fill="#F4A582"/>
<path d="M101.8 51C101.8 51 99.9 66.4 99.5 72.2C99.2 78.1 98.7 82 99.5 86C100.4 90 102.9 93.1 104.5 96C106.2 98.9 109.1 101.4 109.5 103.5C110 105.6 106.6 106.8 107 108.5C107.5 110.2 109.8 112.5 112 113.5C114.3 114.5 117.7 114.5 120.8 114.8C123.9 115 127.9 114.5 130.8 114.8C133.7 115 136.2 115 138.3 116C140.4 117 141.6 119.3 143.3 121C145 122.7 145.8 125.4 148.3 126C150.8 126.6 154.6 125 158.3 124.8C162.1 124.5 166.6 124.5 170.8 124.8C175 125 179.1 125.8 183.3 126C187.5 126.2 192.7 126.6 195.8 126C198.9 125.4 201.2 124.3 202.1 122.2C202.9 120.2 201.4 116.4 200.8 113.5C200.2 110.6 198.7 107.5 198.3 104.8C197.9 102 197.9 99.3 198.3 97.2C198.7 95.2 200.6 95.8 200.8 92.2C201 88.7 199.6 76 199.6 76L101.8 51Z" fill="#F4A582"/>
<path d="M117 133.5C119.5 133.5 121.2 136.8 123.3 138.5C125.4 140.2 127.5 141.8 129.6 143.5C131.6 145.2 133.7 146.9 135.8 148.5C137.9 150.1 140 151.5 142.1 152.9C144.1 154.2 146.2 155.6 148.3 156.6C150.4 157.7 152.5 158.2 154.6 159.1C156.6 160.1 158.7 161.1 160.8 162.2C162.9 163.4 165 164.8 167.1 166C169.1 167.2 174.8 167 173.3 169.8C171.8 172.5 158.3 182.2 158.3 182.2L108.3 138.5C108.3 138.5 114.5 133.5 117 133.5Z" fill="#F4A582"/>
<path d="M223.1 186.6C226.2 182.5 236.6 187.9 241.8 188.5C247 189.1 250.1 189.7 254.3 190C258.5 190.3 262.6 190.5 266.8 190.4C271 190.3 275.1 190.1 279.3 189.5C283.5 188.9 288.1 187.9 291.8 186.6C295.6 185.3 299.7 182.7 301.8 181.6C303.9 180.6 303.9 175.1 304.3 180.4C304.7 185.7 304.3 213.5 304.3 213.5L223.1 213.5C223.1 213.5 219.9 190.8 223.1 186.6Z" fill="#F4A582"/>
<path d="M275.3 190C277.4 181.5 284.7 185.6 287.8 183.8C290.9 181.9 291.8 180.4 294.1 178.8C296.3 177.1 299.1 175.2 301.6 173.8C304.1 172.3 306.3 170.9 309.1 170C311.8 169.1 314.9 168.4 317.8 168.1C320.7 167.8 323.6 167.5 326.6 168.1C329.5 168.8 332.6 170.6 335.3 171.9C338 173.1 340.3 174.6 342.8 175.6C345.3 176.7 347.8 177.8 350.3 178.1C352.8 178.4 355.3 177.9 357.8 177.5C360.3 177.1 362.4 175.9 365.3 175.6C368.2 175.3 372 175.3 375.3 175.6C378.6 175.9 382.2 176.9 385.3 177.5C388.4 178.1 391.6 178.9 394.1 179.4C396.6 179.8 395.1 179.9 400.3 180.2C405.5 180.6 425.3 181.2 425.3 181.2L425.3 235L275.3 235C275.3 235 273.2 198.5 275.3 190Z" fill="#F4A582"/>
<path d="M254.3 82.2C254.7 80.7 258.9 78.5 261.8 77.2C264.7 76 267.6 75.1 271.8 74.8C276 74.4 282.8 73.7 286.8 75.4C290.8 77 292.6 81.6 295.6 84.8C298.5 87.9 303.7 91.9 304.3 94.1C304.9 96.4 303.5 97.6 299.3 98.2C295.1 98.9 284.3 99.1 279.3 97.8C274.3 96.4 272.6 92.2 269.3 90.4C266 88.5 261.8 88 259.3 86.6C256.8 85.3 253.9 83.8 254.3 82.2Z" fill="#F4A582"/>
<path d="M53 81.5C54.5 80.6 57 79 59.3 78.4C61.6 77.8 64.9 77 66.8 77.8C68.7 78.5 70 80.9 70.5 82.8C71.1 84.6 70.8 87.1 69.9 89C69.1 90.9 67.3 92.5 65.5 94C63.8 95.5 61.2 96.5 59.3 97.8C57.4 99 55.8 100.2 54.3 101.5C52.8 102.8 51.8 104 50.5 105.2C49.3 106.5 48.7 108.2 46.8 109C44.9 109.8 41.3 109.8 39.3 110.2C37.3 110.7 36.6 110.9 34.9 111.5C33.3 112.1 31.5 113.8 29.3 114C27.1 114.2 24.1 113.3 21.8 112.8C19.5 112.2 17.4 111.7 15.5 110.9C13.7 110 10.3 108.9 10.5 107.8C10.8 106.6 14.5 104.9 16.8 104C19.1 103.1 21.8 102.5 24.3 102.1C26.8 101.7 29.7 102.4 31.8 101.5C33.9 100.6 34.7 98.4 36.8 96.5C38.9 94.6 42 92.3 44.3 90.2C46.6 88.2 49.1 85.5 50.5 84C52 82.5 51.6 82.4 53 81.5Z" fill="#D6604D"/>
<path d="M103.3 51C103.3 51 101.6 68.9 101.4 74.8C101.2 80.6 100.9 82.7 102 86C103.2 89.3 106.4 92 108.3 94.8C110.2 97.5 112.7 100.2 113.3 102.2C113.9 104.3 111 105.8 112 107.2C113.1 108.7 116.6 110.3 119.5 111C122.5 111.7 126.4 111.4 129.6 111.6C132.7 111.8 136 111.3 138.3 112.2C140.6 113.2 141.6 115.6 143.3 117.2C145 118.9 145.8 121.6 148.3 122.2C150.8 122.9 155 121.3 158.3 121C161.6 120.7 164.6 120.4 168.3 120.4C172.1 120.4 177.1 120.7 180.8 121C184.6 121.3 188.8 122.7 190.8 122.2C192.8 121.8 192.7 120.4 192.7 118.5C192.7 116.6 191.5 113.9 190.8 111C190.1 108.1 188.4 103.9 188.3 101C188.2 98.1 190.2 97.7 190.2 93.5C190.2 89.3 188.3 76 188.3 76L103.3 51Z" fill="#D6604D"/>
<path d="M127 143.5C129.1 143.5 131.2 146.9 133.3 148.5C135.4 150.1 137.5 151.5 139.6 152.9C141.6 154.2 143.7 155.5 145.8 156.6C147.9 157.8 150 158.8 152.1 159.8C154.1 160.7 156.4 161.3 158.3 162.2C160.2 163.2 164.3 163.1 163.3 165.4C162.3 167.7 159.1 178.8 152.1 176C145 173.2 125 153.9 120.8 148.5C116.6 143.1 125 143.5 127 143.5Z" fill="#D6604D"/>
<path d="M266.8 192.2C268.9 188.5 275.1 191.9 279.3 191.2C283.5 190.6 288.1 189.8 291.8 188.5C295.6 187.2 299.7 184.8 301.8 183.8C303.9 182.8 303.9 177.5 304.3 182.5C304.7 187.5 310.6 208.3 304.3 213.5C298.1 218.7 273.1 217 266.8 213.5C260.6 210 264.7 196 266.8 192.2Z" fill="#D6604D"/>
<path d="M275.3 192.5C277.4 184.4 284.5 188.2 287.8 186.2C291.1 184.3 292.8 182.4 295.3 180.6C297.8 178.9 300.3 177.1 302.8 175.6C305.3 174.2 307.6 172.8 310.3 171.9C313 170.9 316.1 170.2 319.1 170C322 169.8 325.3 169.9 327.8 170.6C330.3 171.4 332.2 173 334.1 174.4C335.9 175.7 337.8 176.6 339.1 178.8C340.3 180.9 338.8 186 341.6 187.5C344.3 189 352.9 188.1 355.3 187.5C357.7 186.9 355.1 185.1 355.9 184C356.8 182.9 358.3 181.5 360.3 180.6C362.3 179.8 365.3 179 367.8 178.8C370.3 178.5 372.8 178.6 375.3 179C377.8 179.4 380.3 180.2 382.8 181.2C385.3 182.2 388.2 183.9 390.3 185C392.4 186.1 391.8 186.5 395.6 187.8C399.3 189 409.9 184.6 412.8 192.5C415.7 200.4 412.8 235 412.8 235L275.3 235C275.3 235 273.2 200.6 275.3 192.5Z" fill="#D6604D"/>
<path d="M265.6 81C265.3 79.3 269.9 78.9 273.1 78.5C276.2 78.1 281.2 77 284.3 78.5C287.4 80 289.5 84.5 291.8 87.2C294.1 90 298.5 93.2 298.1 94.8C297.6 96.2 292 96.2 289.3 96.2C286.6 96.3 284.3 96.3 281.8 95C279.3 93.7 277 90.8 274.3 88.5C271.6 86.2 265.8 82.7 265.6 81Z" fill="#D6604D"/>
<path d="M19.3 107.8C19.5 106.7 22.2 105.1 24.3 104.6C26.4 104.2 29.5 105.3 31.8 105C34.1 104.7 36.4 102.8 38 102.8C39.7 102.7 41.4 103.8 41.8 104.6C42.2 105.5 41.8 106.8 40.5 107.8C39.3 108.7 36.2 109.5 34.3 110.2C32.4 111 31.2 112 29.3 112.1C27.4 112.2 24.7 111.6 23 110.9C21.4 110.1 19.1 108.8 19.3 107.8Z" fill="#B2182B"/>
<path d="M65.3 81.2C65.4 80.8 67.9 80.5 68.3 80.9C68.7 81.3 68.3 83.7 67.8 83.8C67.3 83.8 65.2 81.7 65.3 81.2Z" fill="#B2182B"/>
<path d="M105.2 51C105.2 51 103.4 71.4 103.3 77.2C103.2 83.1 103.3 83.5 104.5 86C105.8 88.5 108.7 90 110.8 92.2C112.9 94.5 115.4 97.5 117 99.8C118.7 102 118.7 104.6 120.8 106C122.9 107.4 126.6 107.5 129.6 107.9C132.5 108.3 135.8 107.6 138.3 108.5C140.8 109.4 142.7 111.8 144.6 113.5C146.4 115.2 147.3 117.9 149.6 118.5C151.8 119.1 155.4 117.7 158.3 117.2C161.2 116.8 164.1 116.6 167.1 116C170 115.4 173.5 114.8 175.8 113.5C178.1 112.2 180.4 110.4 180.8 108.5C181.2 106.6 179.6 104.1 178.3 102.2C177.1 100.4 174.6 101.6 173.3 97.2C172.1 92.9 170.8 76 170.8 76L105.2 51Z" fill="#B2182B"/>
<path d="M143.3 156C145 155.9 147.5 158.2 149.6 159.1C151.6 160.1 154 160.8 155.8 161.6C157.6 162.5 160.8 162.1 160.2 164.1C159.6 166.1 155.5 174.2 152.1 173.5C148.6 172.8 141 162.7 139.6 159.8C138.1 156.8 141.6 156.1 143.3 156Z" fill="#B2182B"/>
<path d="M275.3 195C275.3 193.1 284.3 190.8 287.8 188.8C291.3 186.7 293.6 184.5 296.6 182.5C299.5 180.5 302.6 178.3 305.3 176.9C308 175.4 310.3 174.5 312.8 173.8C315.3 173 317.8 172.4 320.3 172.2C322.8 172.1 325.8 172.6 327.8 173.1C329.8 173.7 331.3 174.3 332.2 175.6C333 177 333.9 179.3 332.8 181.2C331.7 183.2 332.8 184.4 325.3 187.5C317.8 190.6 296.1 198.8 287.8 200C279.5 201.2 275.3 196.9 275.3 195Z" fill="#B2182B"/>
<path d="M357.8 186.5C358.5 184.9 360.9 184 362.8 183.1C364.7 182.2 366.8 181.5 369.1 181.2C371.3 181 374.3 181.2 376.6 181.9C378.8 182.5 380.9 183.6 382.8 185C384.7 186.4 386.7 188.5 387.8 190C388.9 191.5 389.7 191.9 389.3 194C388.9 196.1 389.7 201.1 385.3 202.5C380.9 203.9 367.3 204.2 362.8 202.5C358.3 200.8 359.3 195.2 358.4 192.5C357.6 189.8 357.1 188.1 357.8 186.5Z" fill="#B2182B"/>
<path d="M108.3 51C108.3 51 105.4 74.1 105.2 79.8C105 85.4 105.7 83.1 107 84.8C108.4 86.4 111.2 87.9 113.3 89.8C115.4 91.6 117.9 94.1 119.5 96C121.2 97.9 121.4 99.8 123.3 101C125.2 102.2 128.1 102.9 130.8 103.5C133.5 104.1 137.1 103.7 139.6 104.8C142.1 105.8 143.9 108.3 145.8 109.8C147.7 111.2 148.7 112.9 150.8 113.5C152.9 114.1 155.8 113.7 158.3 113.5C160.8 113.3 163.5 112.9 165.8 112.2C168.1 111.6 170.7 111 172.1 109.8C173.4 108.5 174.1 106.2 173.9 104.8C173.7 103.3 172.4 101.9 170.8 101C169.2 100.1 165.8 103.3 164.6 99.1C163.3 95 163.3 76 163.3 76L108.3 51Z" fill="#67001F"/>
<path d="M275.3 197.5C275.3 195.5 284.1 192.8 287.8 190.6C291.6 188.4 294.7 186.4 297.8 184.4C300.9 182.4 304.1 180.1 306.6 178.8C309.1 177.4 310.8 176.6 312.8 176C314.8 175.4 317.4 174.1 318.4 175C319.5 175.9 322.1 178.3 319.1 181.2C316 184.2 305.5 189 300.3 192.5C295.1 196 292 201.7 287.8 202.5C283.6 203.3 275.3 199.5 275.3 197.5Z" fill="#67001F"/>
<path d="M359.7 188.8C359.9 187.4 362.3 186.4 364.1 185.6C365.8 184.9 368 184.4 370.3 184.4C372.6 184.4 375.7 184.7 377.8 185.6C379.9 186.6 381.8 188.4 382.8 190C383.8 191.6 384.9 193.8 384.1 195C383.2 196.2 379.7 196.7 377.8 197.5C375.9 198.3 374.5 200 372.8 200C371.1 200 369.5 198.5 367.8 197.5C366.1 196.5 364.2 195.2 362.8 193.8C361.4 192.3 359.5 190.1 359.7 188.8Z" fill="#67001F"/>
<path d="M361.6 197.8C362.4 196.7 366.3 198.2 367.8 199C369.3 199.8 370.6 201.2 370.6 202.5C370.6 203.8 369.1 206 367.8 206.5C366.5 207 363.8 206.7 362.8 205.2C361.8 203.8 360.7 198.8 361.6 197.8Z" fill="#D6604D"/>
<path d="M362.8 200.9C363.4 200.2 366.8 201.3 367.8 202.1C368.8 203 369.2 205.2 368.6 205.9C367.9 206.5 365 206.7 364.1 205.9C363.1 205 362.2 201.5 362.8 200.9Z" fill="#F4A582"/>
<path d="M39.3 65.2C39.5 64.4 41 62.9 41.8 62.8C42.6 62.6 44 63.4 44.3 64.2C44.6 65.1 44.3 67.1 43.7 67.8C43 68.4 41.3 68.4 40.5 68C39.8 67.6 39.1 66.1 39.3 65.2Z" fill="#D1E5F0"/>
<path d="M-0.7 119C0.8 117 5.1 119 8 119.2C11 119.5 14.1 120.1 16.8 120.5C19.5 120.9 22.2 121.8 24.3 121.8C26.4 121.8 28.5 118.9 29.3 120.5C30.1 122.1 34.3 129.7 29.3 131.5C24.3 133.3 4.3 133.6 -0.7 131.5C-5.7 129.4 -2.2 121 -0.7 119Z" fill="#FDDBC7"/>
<path d="M9.3 126.5C9.5 125.1 11.4 124.2 13 123.4C14.7 122.5 17.1 122 19.3 121.5C21.5 121 24.9 119.9 26.2 120.5C27.5 121.1 28 123.6 27 125.2C26.1 126.9 23.1 129.4 20.5 130.5C18 131.6 13.7 132.4 11.8 131.8C9.9 131.1 9.1 127.9 9.3 126.5Z" fill="#D1E5F0"/>
<path d="M61.8 44C55.1 46.1 61.2 53 61.8 56.5C62.4 60 64.1 62.1 65.5 65.2C67 68.4 68.7 72.1 70.5 75.2C72.4 78.4 74.9 81.5 76.8 84C78.7 86.5 79.9 90.5 81.8 90.5C83.7 90.5 86.2 86.8 88 84C89.9 81.2 91.4 76.7 93 74C94.7 71.3 96.6 69.6 98 67.8C99.5 65.9 101.2 66.7 101.8 62.8C102.4 58.8 108.5 47.1 101.8 44C95.1 40.9 68.5 41.9 61.8 44Z" fill="#92C5DE"/>
<path d="M65.5 44C59.6 46 65 52.5 65.5 55.9C66.1 59.2 67.4 61 68.7 64C69.9 67 71.3 71.1 73 74C74.8 76.9 77.8 79.7 79.3 81.5C80.8 83.3 80.1 85.7 81.8 84.9C83.5 84 86.8 79.6 89.3 76.5C91.8 73.4 94.8 69 96.8 66.5C98.8 64 100.4 65.2 101.2 61.5C101.9 57.8 107.1 46.9 101.2 44C95.2 41.1 71.5 42 65.5 44Z" fill="#4393C3"/>
<path d="M68.7 44C63.4 45.9 68.2 52.1 68.7 55.2C69.2 58.4 70.7 60 71.8 62.8C72.9 65.5 74 68.6 75.5 71.5C77.1 74.4 79.1 79.7 81.2 79.9C83.3 80.1 85.7 75.3 88 72.8C90.4 70.2 93.5 66.7 95.5 64.6C97.6 62.5 99.7 63.7 100.5 60.2C101.4 56.8 105.9 46.7 100.5 44C95.2 41.3 74 42.1 68.7 44Z" fill="#2166AC"/>
<path d="M71.8 46.5C78.9 47.8 71.4 51.7 71.8 54C72.2 56.3 73.5 58 74.3 60.2C75.1 62.5 75.7 65.3 76.8 67.8C77.9 70.2 79.5 74.7 81.2 74.9C82.8 75.1 84.8 71 86.8 69C88.8 67 91 64.5 93 62.8C95.1 61 93.3 61.5 99.3 58.4C105.3 55.2 129.3 44 129.3 44L266.8 31.5L266.8 -18.5L29.3 -18.5L29.3 46.5C29.3 46.5 64.7 45.2 71.8 46.5Z" fill="#053061"/>
<path d="M66.8 101.8C67.6 100.2 69.7 100.3 71.8 99.6C73.9 99 76.8 98 79.3 97.8C81.8 97.5 84.3 97.8 86.8 98.4C89.3 99 92 99.9 94.3 101.5C96.6 103.1 99 105.6 100.5 107.8C102.1 109.9 104.1 112.3 103.7 114.6C103.3 116.9 102.1 120.8 98 121.5C94 122.2 84.5 121.1 79.3 119C74.1 116.9 68.9 111.9 66.8 109C64.7 106.1 66 103.3 66.8 101.8Z" fill="#92C5DE"/>
<path d="M70.5 103C71.8 101.6 76.4 101 79.3 100.9C82.2 100.7 85.5 101.2 88 102.1C90.5 103.1 92.6 104.6 94.3 106.5C96 108.4 98.3 110.9 98.3 113.4C98.3 115.9 97.5 120.8 94.3 121.5C91.1 122.2 83 119.8 79.3 117.8C75.5 115.7 73.3 111.5 71.8 109C70.3 106.5 69.3 104.4 70.5 103Z" fill="#4393C3"/>
<path d="M79.3 106.8C79.9 104.9 83.5 104.9 85.5 105.2C87.6 105.6 90.3 107.4 91.8 109C93.3 110.6 95 113 94.5 114.6C94.1 116.3 91.4 118.7 89.3 119C87.2 119.3 83.5 118.5 81.8 116.5C80.1 114.5 78.7 108.6 79.3 106.8Z" fill="#2166AC"/>
<path d="M107 118.5C107.7 118.1 111.8 119.8 114.5 119.8C117.3 119.8 120.4 118.6 123.3 118.5C126.2 118.4 129.8 118.5 132.1 119.1C134.3 119.8 135.6 120.9 137.1 122.2C138.5 123.6 139.3 125.6 140.8 127.2C142.3 128.9 143.7 131.2 145.8 132.2C147.9 133.3 150.6 133.1 153.3 133.5C156 133.9 159.1 134.1 162.1 134.8C165 135.4 167.7 136.7 170.8 137.2C173.9 137.8 177.5 137.9 180.8 137.9C184.1 137.9 187.9 136.7 190.8 137.2C193.7 137.8 196 139.5 198.3 141C200.6 142.5 202.9 144.5 204.6 146C206.2 147.5 208.3 148.1 208.3 149.8C208.3 151.4 206 153.9 204.6 156C203.1 158.1 201.4 160.6 199.6 162.2C197.7 163.9 195.6 165.2 193.3 166C191 166.8 188.3 167.5 185.8 167.2C183.3 167 180.8 166 178.3 164.8C175.8 163.5 173.1 161.4 170.8 159.8C168.5 158.1 166.6 156.2 164.6 154.8C162.5 153.3 160.2 151.8 158.3 151C156.4 150.2 155 150.4 153.3 149.8C151.6 149.1 150 148.1 148.3 147.2C146.6 146.4 145 145.8 143.3 144.8C141.6 143.7 140 142.2 138.3 141C136.6 139.8 135 138.5 133.3 137.2C131.6 136 130 134.8 128.3 133.5C126.6 132.2 125.2 131 123.3 129.8C121.4 128.5 119.1 127.2 117 126C115 124.8 112.5 123.5 110.8 122.2C109.1 121 106.4 118.9 107 118.5Z" fill="#92C5DE"/>
<path d="M115.8 121.6C116 120.9 120.8 120.5 123.3 120.4C125.8 120.3 128.7 120.3 130.8 121C132.9 121.7 134.3 123.3 135.8 124.8C137.3 126.2 138.1 128.1 139.6 129.8C141 131.4 142.5 133.7 144.6 134.8C146.6 135.8 149.3 135.6 152.1 136C154.8 136.4 157.9 136.6 160.8 137.2C163.7 137.9 166.4 139.2 169.6 139.8C172.7 140.3 176.2 140.3 179.6 140.4C182.9 140.5 186.8 139.9 189.6 140.4C192.3 140.9 194.1 141.9 195.8 143.5C197.5 145.1 199.3 147.5 199.6 149.8C199.8 152 198.3 155.2 197.1 157.2C195.8 159.3 194.1 161.2 192.1 162.2C190 163.3 186.8 163.7 184.6 163.5C182.3 163.3 180.4 162.2 178.3 161C176.2 159.8 174.1 157.7 172.1 156C170 154.3 168.1 152.5 165.8 151C163.5 149.5 160.4 148.1 158.3 147.2C156.2 146.4 155 146.6 153.3 146C151.6 145.4 150 144.5 148.3 143.5C146.6 142.5 145 141 143.3 139.8C141.6 138.5 140 137.2 138.3 136C136.6 134.8 135 133.5 133.3 132.2C131.6 131 130.2 129.8 128.3 128.5C126.4 127.2 124.1 125.9 122 124.8C120 123.6 115.6 122.4 115.8 121.6Z" fill="#4393C3"/>
<path d="M144.6 136C145.1 135.4 148.1 135 149.6 135C151.1 135 153.3 135.3 153.6 136C153.8 136.7 152 138.7 150.8 139.1C149.6 139.5 147.5 139 146.4 138.5C145.4 138 144 136.6 144.6 136Z" fill="#2166AC"/>
<path d="M165.8 149.8C166.4 148.7 170.4 148 173.3 147.2C176.2 146.5 180.4 145.6 183.3 145.4C186.2 145.2 188.8 145.3 190.8 146C192.8 146.7 194.8 148.4 195.2 149.8C195.6 151.1 194.9 153 193.3 154.1C191.7 155.3 188.5 156.3 185.8 156.6C183.1 156.9 179.8 156.5 177.1 156C174.3 155.5 171.4 154.5 169.6 153.5C167.7 152.5 165.2 150.8 165.8 149.8Z" fill="#2166AC"/>
<path d="M253.1 96.2C251.4 94.7 250.8 92.9 249.3 91.6C247.8 90.3 246.2 88.5 244.3 88.5C242.4 88.5 240.1 89.5 238.1 91.6C236 93.7 233.9 97.8 231.8 101C229.7 104.2 228.1 107.9 225.6 111C223.1 114.1 218.8 117.2 216.8 119.8C214.8 122.2 214.2 123.7 213.7 126C213.2 128.3 212.9 131.2 213.7 133.5C214.4 135.8 216.3 137.9 218.1 139.8C219.8 141.6 222.5 142.9 224.3 144.8C226.1 146.6 228.1 148.3 228.7 151C229.3 153.7 229.2 158.3 228.1 161C226.9 163.7 223.7 165 221.8 167.2C219.9 169.5 215.6 173 216.8 174.8C218.1 176.5 225.1 176.9 229.3 177.9C233.5 178.8 237.6 179.6 241.8 180.4C246 181.1 250.1 181.8 254.3 182.2C258.5 182.7 262.6 182.9 266.8 182.9C271 182.9 275.1 182.8 279.3 182.2C283.5 181.7 288.1 180.8 291.8 179.8C295.6 178.7 298.9 177.4 301.8 176C304.7 174.6 307.5 173.1 309.3 171.2C311.1 169.4 310.6 166.1 312.8 164.8C315.1 163.4 319.5 163.3 322.8 163.1C326.1 163 329.5 163.3 332.8 163.8C336.1 164.2 339.5 165.1 342.8 165.6C346.1 166.1 349.5 166.7 352.8 166.9C356.1 167.1 359.5 167 362.8 166.9C366.1 166.8 369.5 166.2 372.8 166.2C376.1 166.2 379.5 166.5 382.8 166.9C386.1 167.3 389.9 168 392.8 168.8C395.7 169.5 397 170.2 400.3 171.2C403.6 172.3 406.6 176.9 412.8 175C419.1 173.1 437.8 160 437.8 160L437.8 35L324.1 30C324.1 30 325.5 52.7 324.1 58.8C322.6 64.8 317.2 63.5 315.3 66.2C313.4 69 312.8 72.1 312.8 75C312.8 77.9 314.1 80.8 315.3 83.8C316.6 86.7 319.5 90.2 320.3 92.5C321.1 94.8 323 96.1 320.3 97.5C317.6 98.9 309.1 100.2 304.3 101C299.6 101.8 296 101.8 291.8 102.2C287.6 102.7 283.5 103.3 279.3 103.5C275.1 103.7 270.1 103.9 266.8 103.5C263.5 103.1 261.6 102.2 259.3 101C257 99.8 254.7 97.8 253.1 96.2Z" fill="#92C5DE"/>
<path d="M296.8 68.5C297 67.6 298.6 65.8 299.9 65.4C301.3 65 303.8 65.4 304.9 66C306.1 66.6 307.1 68.2 306.8 69.1C306.5 70 304.4 71 303.1 71.2C301.7 71.5 299.7 71.2 298.7 70.8C297.6 70.3 296.6 69.4 296.8 68.5Z" fill="#92C5DE"/>
<path d="M235.6 123.5C235.7 121.3 237.2 119.2 239.3 117.9C241.4 116.5 244.9 115.6 248.1 115.4C251.2 115.2 255.4 115.5 258.1 116.6C260.7 117.8 263.1 120.1 263.7 122.2C264.3 124.4 263.4 127.7 261.8 129.8C260.2 131.8 257 133.8 254.3 134.8C251.6 135.7 248.2 136 245.6 135.4C242.9 134.8 240.3 133 238.7 131C237 129 235.4 125.7 235.6 123.5Z" fill="#D1E5F0"/>
<path d="M243.1 122.9C243.3 122 246 121.1 248.1 120.8C250.1 120.4 253.9 120.6 255.6 121C257.2 121.4 258.3 122.1 258.1 122.9C257.8 123.6 256.2 124.9 254.3 125.4C252.4 125.9 248.7 126.2 246.8 125.8C244.9 125.3 242.8 123.7 243.1 122.9Z" fill="#FDDBC7"/>
<path d="M236.8 106.6C237.1 108.5 239.5 110.8 241.8 111.6C244.1 112.5 247.6 111.7 250.6 111.6C253.5 111.5 256.6 110.5 259.3 111C262 111.5 265.1 113.1 266.8 114.8C268.5 116.4 269.3 118.7 269.3 121C269.3 123.3 268.1 126 266.8 128.5C265.6 131 263.9 133.9 261.8 136C259.7 138.1 256.8 139.5 254.3 141C251.8 142.5 249.3 143.3 246.8 144.8C244.3 146.2 241.8 147.9 239.3 149.8C236.8 151.6 233.7 153.9 231.8 156C229.9 158.1 228.3 160.2 228.1 162.2C227.8 164.3 229.3 166.4 230.6 168.5C231.8 170.6 233.3 173.1 235.6 174.8C237.8 176.4 241.2 177.7 244.3 178.5C247.4 179.3 250.6 179.4 254.3 179.8C258.1 180.1 262.6 180.5 266.8 180.4C271 180.3 275.1 179.8 279.3 179.1C283.5 178.5 288.3 177.7 291.8 176.6C295.3 175.6 297.8 174.3 300.6 172.9C303.3 171.4 305.6 170 308.1 167.9C310.5 165.7 313.3 161.3 315.3 160C317.3 158.7 317.8 160.3 320.3 160C322.8 159.7 327 158.8 330.3 158.1C333.6 157.5 337 156.7 340.3 156.2C343.6 155.8 347 155.5 350.3 155.6C353.6 155.7 357.4 156.6 360.3 156.9C363.2 157.2 365.5 158.4 367.8 157.5C370.1 156.6 372 152.8 374.1 151.2C376.1 149.7 378.2 147.9 380.3 148.1C382.4 148.3 384.5 150.7 386.6 152.5C388.6 154.3 390.5 156.9 392.8 158.8C395.1 160.6 397 162.7 400.3 163.8C403.6 164.8 406.6 165.6 412.8 165C419.1 164.4 437.8 160 437.8 160L437.8 35L345.3 30C345.3 30 347.4 51.9 345.3 57.5C343.2 63.1 335.9 61.9 332.8 63.8C329.7 65.6 327.2 66.5 326.6 68.8C325.9 71 328.4 74.4 329.1 77.5C329.7 80.6 329.7 84.6 330.3 87.5C330.9 90.4 333.4 92.5 332.8 95C332.2 97.5 329.2 100.9 326.6 102.5C323.9 104.1 320.5 104.7 316.8 104.8C313.1 104.8 308.5 103 304.3 102.9C300.1 102.8 296 103.8 291.8 104.1C287.6 104.4 283.5 104.5 279.3 104.8C275.1 105 270.6 105.3 266.8 105.4C263.1 105.5 259.3 106.1 256.8 105.4C254.3 104.6 253.7 102.1 251.8 101C249.9 99.9 247.5 99 245.6 98.9C243.6 98.8 241.4 99.1 239.9 100.4C238.5 101.7 236.5 104.8 236.8 106.6Z" fill="#4393C3"/>
<path d="M273.1 108.5C271.4 110 272 113.5 271.8 116C271.6 118.5 272.6 120.6 271.8 123.5C271 126.4 268.1 130.2 266.8 133.5C265.6 136.8 265.6 140.8 264.3 143.5C263.1 146.2 261.6 148.1 259.3 149.8C257 151.4 253.5 152.5 250.6 153.5C247.6 154.5 244.1 154.8 241.8 156C239.5 157.2 237.7 158.9 236.8 161C235.9 163.1 235.3 166.2 236.2 168.5C237 170.8 239.4 173.3 241.8 174.8C244.2 176.2 247.2 176.7 250.6 177.2C253.9 177.8 258.3 177.7 261.8 177.9C265.3 178.1 268.5 178.7 271.8 178.5C275.1 178.3 278.5 177.5 281.8 176.6C285.1 175.8 288.9 174.8 291.8 173.5C294.7 172.2 296.8 170.6 299.3 169.1C301.8 167.7 304.6 166.4 306.8 164.8C309.1 163.1 310.1 160.7 312.8 159.4C315.5 158.1 319.5 158 322.8 156.9C326.1 155.7 329.7 154.3 332.8 152.5C335.9 150.7 338.8 147.9 341.6 146.2C344.3 144.6 346.6 143 349.1 142.5C351.6 142 353.8 142.4 356.6 143.1C359.3 143.9 362.6 146.8 365.3 146.9C368 147 370.3 144.7 372.8 143.8C375.3 142.8 377.8 141 380.3 141.2C382.8 141.5 385.3 143.6 387.8 145C390.3 146.4 392.8 149 395.3 149.4C397.8 149.8 400.3 147.5 402.8 147.5C405.3 147.5 406.6 148.3 410.3 149.4C414.1 150.4 420.7 154.1 425.3 153.8C429.9 153.4 437.8 147.5 437.8 147.5L437.8 35L354.1 30C354.1 30 355.5 52.5 354.1 58.1C352.6 63.8 347.5 61.6 345.3 63.8C343.1 65.9 341.9 68.3 340.9 71.2C340 74.2 339.8 78.1 339.7 81.2C339.6 84.4 340.4 87.5 340.3 90C340.2 92.5 340.3 94.2 339.1 96.2C337.8 98.3 335.1 100.6 332.8 102.5C330.5 104.4 328 106 325.3 107.5C322.6 109 319.5 110.4 316.6 111.2C313.6 112.1 310.7 113.6 307.8 112.8C304.9 111.9 302.4 107.3 299.3 106.2C296.2 105.2 292.2 106.5 289.3 106.6C286.4 106.7 284.5 106.6 281.8 106.9C279.1 107.2 274.7 107 273.1 108.5Z" fill="#2166AC"/>
<path d="M279.3 109.1C277 110.6 276.4 113.6 275.6 116C274.7 118.4 274.9 121.2 274.3 123.5C273.7 125.8 272.8 127.5 271.8 129.8C270.8 132 268.3 134.8 268.1 137.2C267.8 139.8 270.6 142.5 270.6 144.8C270.6 147 269.5 148.9 268.1 151C266.6 153.1 264.1 155.5 261.8 157.2C259.5 159 256.4 160.6 254.3 161.6C252.2 162.7 248.9 162.8 249.3 163.5C249.7 164.2 254.5 164.8 256.8 166C259.1 167.2 261 169.3 263.1 171C265.1 172.7 267.2 175.1 269.3 176C271.4 176.9 273.7 177.5 275.6 176.6C277.4 175.8 278.7 173 280.6 171C282.4 169 284.5 166.4 286.8 164.8C289.1 163.1 291.8 162 294.3 161C296.8 160 299.3 159.2 301.8 158.5C304.3 157.8 307.1 157.6 309.3 156.6C311.6 155.6 312.6 153.6 315.3 152.5C318 151.4 322 151.5 325.3 150C328.6 148.5 332.4 146 335.3 143.8C338.2 141.5 340.3 138.3 342.8 136.2C345.3 134.2 347.8 132.2 350.3 131.2C352.8 130.3 354.9 130.2 357.8 130.6C360.7 131 364.5 133 367.8 133.8C371.1 134.5 374.9 134.2 377.8 135C380.7 135.8 382.8 137.6 385.3 138.8C387.8 139.9 390.3 141.7 392.8 141.9C395.3 142.1 398 140.7 400.3 140C402.6 139.3 404.5 137.1 406.6 137.5C408.6 137.9 409.7 140.8 412.8 142.5C415.9 144.2 421.1 148.8 425.3 147.5C429.5 146.2 437.8 135 437.8 135L437.8 35L357.8 30C357.8 30 359.1 53.5 357.8 59.4C356.6 65.2 352.4 62.8 350.3 65C348.2 67.2 346.3 69.8 345.3 72.5C344.3 75.2 343.4 78.5 344.1 81.2C344.7 84 347.2 86.7 349.1 88.8C350.9 90.8 355.9 92.3 355.3 93.8C354.7 95.2 348.2 96.2 345.3 97.5C342.4 98.8 340.3 99.6 337.8 101.2C335.3 102.9 332.8 105.4 330.3 107.5C327.8 109.6 325.3 112.1 322.8 113.8C320.3 115.4 317.8 116.7 315.3 117.5C312.8 118.3 309 119.1 307.8 118.8C306.6 118.4 309.3 117.1 308.1 115.4C306.8 113.6 303.7 109.5 300.6 108.1C297.4 106.8 292.8 107.1 289.3 107.2C285.8 107.4 281.6 107.7 279.3 109.1Z" fill="#053061"/>
<path d="M212.3 7C206.9 8.2 216.1 11.6 217.3 14.5C218.6 17.4 219.8 21.6 219.8 24.5C219.8 27.4 212.3 30.8 217.3 32C222.3 33.2 244.4 36.2 249.8 32C255.2 27.8 256.1 11.2 249.8 7C243.6 2.8 217.7 5.8 212.3 7Z" fill="#2166AC"/>
<path d="M219.8 7C215.4 8.7 222.7 13.7 223.6 17C224.4 20.3 225 24.5 224.8 27C224.6 29.5 218.1 31.2 222.3 32C226.5 32.8 245.2 36.2 249.8 32C254.4 27.8 254.8 11.2 249.8 7C244.8 2.8 224.2 5.3 219.8 7Z" fill="#4393C3"/>
<path d="M224.8 9.5C221.1 11 227.2 15.1 227.8 18.2C228.4 21.4 224.9 26 228.6 28.2C232.2 30.5 246.3 35.1 249.8 32C253.3 28.9 254 13.2 249.8 9.5C245.6 5.8 228.5 8 224.8 9.5Z" fill="#92C5DE"/>
<path d="M229.3 12C226.3 13.2 231.3 16.8 231.8 19.5C232.3 22.2 229.3 26.6 232.3 28.2C235.3 29.9 246.9 32.2 249.8 29.5C252.7 26.8 253.2 14.9 249.8 12C246.4 9.1 232.3 10.8 229.3 12Z" fill="#D1E5F0"/>
<path d="M233.6 14.5C231.2 15.5 235.1 18.7 235.6 20.8C236 22.8 233.7 26 236.1 27C238.4 28 247.5 29.1 249.8 27C252.1 24.9 252.5 16.6 249.8 14.5C247.1 12.4 235.9 13.5 233.6 14.5Z" fill="#FDDBC7"/>
<path d="M37.3 24.5C42 20.8 60.9 22.8 65.3 24.5C69.7 26.2 64.5 31.2 63.5 34.5C62.6 37.8 64.2 42.4 59.8 44.5C55.4 46.6 41 50.3 37.3 47C33.5 43.7 32.6 28.2 37.3 24.5Z" fill="#2166AC"/>
<path d="M37.3 24.5C41.2 20.8 57 22.8 60.5 24.5C64.1 26.2 59.8 31.2 58.8 34.5C57.8 37.8 58.4 42.4 54.8 44.5C51.2 46.6 40.2 50.3 37.3 47C34.4 43.7 33.4 28.2 37.3 24.5Z" fill="#4393C3"/>
<path d="M37.3 24.5C40.3 20.8 52.6 22.8 55.3 24.5C58 26.2 54.5 31.2 53.5 34.5C52.6 37.8 52.5 42.4 49.8 44.5C47.1 46.6 39.4 50.3 37.3 47C35.2 43.7 34.3 28.2 37.3 24.5Z" fill="#92C5DE"/>
<path d="M119.8 53.2C120.6 51.6 129 48 134.8 45.8C140.6 43.5 148.1 41.4 154.8 39.5C161.5 37.6 169 36 174.8 34.5C180.6 33 186.9 30.3 189.8 30.8C192.7 31.2 194.8 35.1 192.3 37C189.8 38.9 181.9 40.1 174.8 42C167.7 43.9 157.3 46 149.8 48.2C142.3 50.5 134.8 54.9 129.8 55.8C124.8 56.6 119 54.9 119.8 53.2Z" fill="#2166AC"/>
</g>
<use href="#ol" fill="none" stroke="#000" stroke-width="2.8" stroke-linejoin="round"/>
</g>
<circle cx="360.6" cy="63.7" r="3.95"/>
<circle cx="349.7" cy="74.6" r="3.95"/>
<circle cx="371.4" cy="74.6" r="3.95"/>
<circle cx="338.8" cy="85.4" r="3.95"/>
<circle cx="360.6" cy="85.4" r="3.95"/>
<circle cx="382.3" cy="85.4" r="3.95"/>
<circle cx="404" cy="85.4" r="3.95"/>
<circle cx="349.7" cy="96.3" r="3.95"/>
<circle cx="371.4" cy="96.3" r="3.95"/>
<circle cx="393.1" cy="96.3" r="3.95"/>
<circle cx="360.6" cy="107.1" r="3.95"/>
<circle cx="382.3" cy="107.1" r="3.95"/>
<circle cx="328" cy="117.9" r="3.95"/>
<circle cx="349.7" cy="117.9" r="3.95"/>
<circle cx="371.4" cy="117.9" r="3.95"/>
<circle cx="393.1" cy="117.9" r="3.95"/>
<circle cx="414.9" cy="117.9" r="3.95"/>
<circle cx="295.4" cy="128.8" r="3.95"/>
<circle cx="317.1" cy="128.8" r="3.95"/>
<circle cx="338.8" cy="128.8" r="3.95"/>
<circle cx="404" cy="128.8" r="3.95"/>
<circle cx="284.5" cy="139.6" r="3.95"/>
<circle cx="306.2" cy="139.6" r="3.95"/>
<circle cx="328" cy="139.6" r="3.95"/>
<circle cx="67.3" cy="31.2" r="3.95"/>
<circle cx="89" cy="31.2" r="3.95"/>
<circle cx="110.7" cy="31.2" r="3.95"/>
<circle cx="99.8" cy="42" r="3.95"/>
<circle cx="121.6" cy="42" r="3.95"/>
<circle cx="89" cy="52.9" r="3.95"/>
<circle cx="110.7" cy="52.9" r="3.95"/>
<circle cx="132.4" cy="31.2" r="3.95"/>
<circle cx="154.2" cy="31.2" r="3.95"/>
<circle cx="197.6" cy="9.5" r="3.95"/>
<circle cx="208.5" cy="20.3" r="3.95"/>
<circle cx="121.6" cy="20.3" r="3.95"/>
<circle cx="132.4" cy="96.3" r="3.95"/>
<circle cx="154.2" cy="96.3" r="3.95"/>
<circle cx="121.6" cy="85.4" r="3.95"/>
<circle cx="165" cy="107.1" r="3.95"/>
<rect x="162.9" y="97.6" width="260.7" height="108.5" fill="none" stroke="#A020F0" stroke-width="3.4" stroke-linejoin="round"/>
<rect x="0" y="0" width="434.5" height="216.9" fill="none" stroke="#000" stroke-width="1.1"/>
<path d="M0 216.9v11.3M10.9 216.9v6M32.6 216.9v6M54.3 216.9v11.3M76 216.9v6M97.8 216.9v6M108.6 216.9v11.3M119.5 216.9v6M141.2 216.9v6M162.9 216.9v11.3M184.7 216.9v6M206.4 216.9v6M217.2 216.9v11.3M228.1 216.9v6M249.8 216.9v6M271.6 216.9v11.3M293.3 216.9v6M315 216.9v6M325.9 216.9v11.3M336.7 216.9v6M358.5 216.9v6M380.2 216.9v11.3M401.9 216.9v6M423.6 216.9v6M434.5 216.9v11.3M0 216.9h-11.3M0 206.1h-6M0 195.2h-6M0 184.4h-6M0 173.5h-6M0 162.7h-11.3M0 151.8h-6M0 141h-6M0 130.1h-6M0 119.3h-6M0 108.5h-11.3M0 97.6h-6M0 86.8h-6M0 75.9h-6M0 65.1h-6M0 54.2h-11.3M0 43.4h-6M0 32.5h-6M0 21.7h-6M0 10.8h-6M0 0h-11.3" stroke="#000" stroke-width="0.85" fill="none"/>
<g style="filter:opacity(1)">
<text x="0" y="246.1" font-size="18.4" text-anchor="middle">65E</text>
<text x="54.3" y="246.1" font-size="18.4" text-anchor="middle">70E</text>
<text x="108.6" y="246.1" font-size="18.4" text-anchor="middle">75E</text>
<text x="162.9" y="246.1" font-size="18.4" text-anchor="middle">80E</text>
<text x="217.2" y="246.1" font-size="18.4" text-anchor="middle">85E</text>
<text x="271.6" y="246.1" font-size="18.4" text-anchor="middle">90E</text>
<text x="325.9" y="246.1" font-size="18.4" text-anchor="middle">95E</text>
<text x="380.2" y="246.1" font-size="18.4" text-anchor="middle">100E</text>
<text x="434.5" y="246.1" font-size="18.4" text-anchor="middle">105E</text>
<text x="-13.9" y="223.5" font-size="18.4" text-anchor="end">25N</text>
<text x="-13.9" y="169.3" font-size="18.4" text-anchor="end">30N</text>
<text x="-13.9" y="115" font-size="18.4" text-anchor="end">35N</text>
<text x="-13.9" y="60.8" font-size="18.4" text-anchor="end">40N</text>
<text x="-13.9" y="6.6" font-size="18.4" text-anchor="end">45N</text>
<text x="-1.2" y="-15.7" font-size="22.2">(c) LCC</text>
<rect x="56.9" y="263" width="32" height="19.2" fill="#053061" stroke="#000" stroke-width="0.7"/>
<rect x="88.9" y="263" width="32" height="19.2" fill="#2166AC" stroke="#000" stroke-width="0.7"/>
<rect x="120.9" y="263" width="32" height="19.2" fill="#4393C3" stroke="#000" stroke-width="0.7"/>
<rect x="152.9" y="263" width="32" height="19.2" fill="#92C5DE" stroke="#000" stroke-width="0.7"/>
<rect x="184.9" y="263" width="32" height="19.2" fill="#D1E5F0" stroke="#000" stroke-width="0.7"/>
<rect x="216.9" y="263" width="32" height="19.2" fill="#FDDBC7" stroke="#000" stroke-width="0.7"/>
<rect x="248.9" y="263" width="32" height="19.2" fill="#F4A582" stroke="#000" stroke-width="0.7"/>
<rect x="280.9" y="263" width="32" height="19.2" fill="#D6604D" stroke="#000" stroke-width="0.7"/>
<rect x="312.9" y="263" width="32" height="19.2" fill="#B2182B" stroke="#000" stroke-width="0.7"/>
<rect x="344.9" y="263" width="32" height="19.2" fill="#67001F" stroke="#000" stroke-width="0.7"/>
<text x="88.9" y="301.6" font-size="18.9" text-anchor="middle">-0.8</text>
<text x="152.9" y="301.6" font-size="18.9" text-anchor="middle">-0.4</text>
<text x="216.9" y="301.6" font-size="18.9" text-anchor="middle">0</text>
<text x="280.9" y="301.6" font-size="18.9" text-anchor="middle">0.4</text>
<text x="344.9" y="301.6" font-size="18.9" text-anchor="middle">0.8</text>
</g>
</g>
<g transform="translate(564.2 547.5)">
<g clip-path="url(#fr)"><g clip-path="url(#cp)">
<rect x="0" y="0" width="434.5" height="216.9" fill="#D1E5F0"/>
<path d="M37.3 -10.5L249.8 -10.5C249.8 -10.5 251.5 13.2 249.8 18.2C248.1 23.3 244 19.5 239.8 20C235.6 20.5 229.4 21 224.8 21.5C220.2 22 216.9 22.5 212.3 23.2C207.7 24 201.9 25 197.3 25.8C192.7 26.5 189 26.9 184.8 27.5C180.6 28.1 176 29 172.3 29.5C168.5 30 165.2 29.9 162.3 30.8C159.4 31.6 157.3 33 154.8 34.5C152.3 36 149.8 37.8 147.3 39.5C144.8 41.2 142.7 42.9 139.8 44.5C136.9 46.1 133.5 47.8 129.8 49C126 50.2 121.5 51.2 117.3 52C113.1 52.8 109 53.1 104.8 53.5C100.6 53.9 96.5 54.1 92.3 54.5C88.1 54.9 84 55.2 79.8 55.8C75.6 56.2 71 56.9 67.3 57.5C63.5 58.1 62.3 59.2 57.3 59.5C52.3 59.8 37.3 59.5 37.3 59.5L37.3 -10.5Z" fill="#FDDBC7"/>
<path d="M9.8 62C10.6 59.9 11.5 60.2 14.8 59.5C18.1 58.8 24 58.1 29.8 57.5C35.6 56.9 45.8 54.8 49.8 55.8C53.8 56.7 54.8 61.5 53.5 63.2C52.3 65 46 65 42.3 66C38.5 67 34.2 67.9 31 69C27.9 70.1 26.3 71.7 23.5 72.5C20.8 73.3 17.1 73.8 14.8 73.8C12.5 73.7 10.6 74 9.8 72C9 70 9 64.1 9.8 62Z" fill="#FDDBC7"/>
<path d="M103.5 67C103.5 67 97.9 75.3 96 79.5C94.2 83.7 92.5 87.4 92.3 92C92.1 96.6 93.1 102.4 94.8 107C96.5 111.6 99 115.8 102.3 119.5C105.6 123.2 110.2 126.4 114.8 129.5C119.4 132.6 124 136 129.8 138.2C135.6 140.5 143.1 142.2 149.8 143.2C156.5 144.3 163.1 144.5 169.8 144.5C176.5 144.5 183.5 144.1 189.8 143.2C196 142.4 203.9 141.4 207.3 139.5C210.7 137.6 211.3 134.5 210.3 132C209.3 129.5 204.4 127 201 124.5C197.7 122 192.2 119.9 190.3 117C188.4 114.1 188.2 109.9 189.8 107C191.4 104.1 196 101.4 199.8 99.5C203.5 97.6 208.1 97 212.3 95.8C216.5 94.5 220.2 93.7 224.8 92C229.4 90.3 234.6 87.8 239.8 85.8C245 83.7 251.3 82.6 255.8 79.5C260.3 76.4 263.4 69.7 266.8 67C270.2 64.3 276 67.2 276 63.5C276 59.8 266.8 44.5 266.8 44.5L181.8 49.5C181.8 49.5 149.8 62 149.8 62L103.5 67Z" fill="#FDDBC7"/>
<path d="M243 176.5C243 175.8 245.2 174.5 246.3 174.5C247.4 174.5 249.8 175.8 249.8 176.5C249.8 177.2 247.4 178.5 246.3 178.5C245.2 178.5 243 177.2 243 176.5Z" fill="#FDDBC7"/>
<path d="M-5.2 94.5C-2.7 88 4.8 95.3 9.8 95.8C14.8 96.2 20.2 97 24.8 97C29.4 97 33.5 96.7 37.3 95.8C41 94.8 45.2 91.5 47.3 91.5C49.4 91.5 49.7 93.6 49.8 95.8C49.9 97.9 48.5 102.4 47.8 104.5C47.1 106.6 46.9 106.2 45.5 108.2C44.2 110.3 42.4 114.3 39.8 117C37.2 119.7 34 121.6 29.8 124.5C25.6 127.4 20.6 132.8 14.8 134.5C9 136.2 -1.9 141.2 -5.2 134.5C-8.5 127.8 -7.7 101 -5.2 94.5Z" fill="#FDDBC7"/>
<path d="M170.8 28C171.2 27.2 175.2 26.2 177.8 25.8C180.4 25.2 184.5 24.7 186.5 25C188.6 25.3 191.1 26.8 190.3 27.5C189.5 28.2 184 29 181.5 29.5C179 30 177.1 31 175.3 30.8C173.5 30.5 170.4 28.8 170.8 28Z" fill="#D1E5F0"/>
<path d="M206.5 26.2C206.5 25 210.1 23.4 212.8 22.5C215.5 21.6 219.7 21 222.8 20.8C225.9 20.5 228.8 20.8 231.5 21.2C234.3 21.7 238.4 22.4 239 23.2C239.7 24.1 237.2 26 235.3 26.2C233.4 26.5 230.3 24.5 227.8 25C225.3 25.5 222.8 28.7 220.3 29.5C217.8 30.3 215.1 30.5 212.8 30C210.5 29.5 206.5 27.5 206.5 26.2Z" fill="#D1E5F0"/>
<path d="M46 24.5C50.8 21 65.8 23.7 74.8 23.2C83.8 22.8 92.3 22.4 99.8 22C107.3 21.6 113.1 20.5 119.8 20.8C126.5 21 136 21.4 139.8 23.2C143.5 25.1 142.3 29.1 142.3 32C142.3 34.9 141.5 38.5 139.8 40.8C138.1 43 135.6 44.4 132.3 45.8C129 47.1 124.4 48.6 119.8 49C115.2 49.4 109.4 48.2 104.8 48.2C100.2 48.3 95.6 50.1 92.3 49.5C89 48.9 87.7 46 84.8 44.5C81.9 43 78.5 41 74.8 40.8C71 40.5 67.1 42.6 62.3 43.2C57.5 43.9 48.8 47.6 46 44.5C43.3 41.4 41.3 28 46 24.5Z" fill="#F4A582"/>
<path d="M182.3 -0.5C183.1 -2.4 188.5 -1.8 191 -0.5C193.5 0.8 195.4 4.5 197.3 7C199.2 9.5 201.9 12.5 202.3 14.5C202.7 16.5 201.5 18.6 199.8 19C198.1 19.4 194.6 18.4 192.3 17C190 15.6 187.7 13.7 186 10.8C184.4 7.8 181.5 1.4 182.3 -0.5Z" fill="#F4A582"/>
<path d="M143.5 -0.5C145.2 -1.8 157.5 -1.7 159.8 -0.5C162.1 0.7 159 5.2 157.3 6.5C155.6 7.8 152.1 8.2 149.8 7C147.5 5.8 141.9 0.8 143.5 -0.5Z" fill="#F4A582"/>
<path d="M26 62C27.3 60.9 35.2 59.8 37.3 60.2C39.4 60.8 39.8 63.9 38.5 65C37.3 66.1 31.9 67.5 29.8 67C27.7 66.5 24.8 63.1 26 62Z" fill="#F4A582"/>
<path d="M113.5 79.5C110 82.2 105.8 87 103.5 90.8C101.3 94.5 99.6 98.4 99.8 102C100 105.6 102.3 109.3 104.8 112.5C107.3 115.7 110.6 118.8 114.8 121.2C119 123.8 124.4 125.7 129.8 127.5C135.2 129.3 141.9 131.6 147.3 132C152.7 132.4 158.1 132 162.3 130C166.5 128 170.4 123.8 172.3 120C174.2 116.2 173.8 111.2 173.8 107C173.8 102.8 176.3 98.7 172.3 94.5C168.3 90.3 157.7 85.3 149.8 82C141.9 78.7 130.8 74.9 124.8 74.5C118.8 74.1 117.1 76.8 113.5 79.5Z" fill="#F4A582"/>
<path d="M79.3 24.5C80.5 22.8 83.9 23.5 87.3 23.2C90.7 23 94.8 23.4 99.8 23.2C104.8 23.1 113.8 21.5 117.3 22.5C120.8 23.5 120.7 27.1 120.8 29.5C120.9 31.9 119.6 34.8 117.8 37C116 39.2 112.8 41.4 109.8 42.5C106.8 43.6 103.1 43.7 99.8 43.5C96.5 43.3 92.5 42.6 89.8 41.5C87.1 40.4 85.1 38.4 83.5 37C82 35.6 81 35.3 80.3 33.2C79.6 31.2 78.1 26.2 79.3 24.5Z" fill="#D6604D"/>
<path d="M47.3 28.2C48 26.8 51.5 26.8 52.3 28.2C53 29.7 52.5 35.5 51.8 37C51 38.5 48.5 38.5 47.8 37C47 35.5 46.5 29.7 47.3 28.2Z" fill="#D6604D"/>
<path d="M117.3 85.8C112.9 87 110.4 89.3 108.5 92C106.7 94.7 105.6 98.9 106 102C106.5 105.1 108.3 108 111 110.8C113.8 113.5 118.3 116.2 122.3 118.2C126.3 120.3 130.6 122.2 134.8 123.2C139 124.3 143.5 125.1 147.3 124.5C151 123.9 155.2 122 157.3 119.5C159.4 117 160.2 112.8 159.8 109.5C159.4 106.2 156.9 102.6 154.8 99.5C152.7 96.4 150.6 93.2 147.3 90.8C144 88.2 139.8 85.3 134.8 84.5C129.8 83.7 121.7 84.5 117.3 85.8Z" fill="#D6604D"/>
<path d="M121 88.2C118.3 89.5 115.2 91.2 113.5 93.2C111.9 95.3 110.6 98.2 111 100.8C111.5 103.2 113.5 106 116 108.2C118.5 110.5 122.5 112.7 126 114.5C129.6 116.3 133.8 118.2 137.3 119C140.8 119.8 144.6 120.5 147.3 119.5C150 118.5 152.5 115.8 153.5 113.2C154.6 110.8 154.4 107.2 153.5 104.5C152.7 101.8 150.8 99.5 148.5 97C146.3 94.5 142.9 91.4 139.8 89.5C136.7 87.6 132.9 86 129.8 85.8C126.7 85.5 123.8 87 121 88.2Z" fill="#B2182B"/>
<path d="M124.8 90.8C122.1 91.4 119 93 117.3 94.5C115.6 96 114.4 97.6 114.8 99.5C115.2 101.4 117.3 103.9 119.8 105.8C122.3 107.6 126.5 109.5 129.8 110.8C133.1 112 137.1 113.2 139.8 113.2C142.5 113.2 144.8 112.4 146 110.8C147.3 109.1 147.9 105.8 147.3 103.2C146.7 100.8 144.6 97.8 142.3 95.8C140 93.7 136.5 91.6 133.5 90.8C130.6 89.9 127.5 90.1 124.8 90.8Z" fill="#67001F"/>
<path d="M53 80.8C53.8 79.3 57 77.5 59.8 76.5C62.6 75.5 66.5 74.9 69.8 75C73 75.1 77.2 75.8 79.3 77C81.4 78.2 82.4 80.3 82.3 82C82.2 83.7 80 85.4 78.5 87C77.1 88.6 74.6 90 73.5 91.5C72.5 93 71.7 94.2 72.3 95.8C72.9 97.3 76 99.3 77.3 100.8C78.5 102.2 80.6 103.7 79.8 104.5C79 105.3 74.5 106.2 72.3 105.8C70.1 105.2 68 103.2 66.8 101.5C65.6 99.8 65.3 97.4 65.3 95.8C65.3 94.1 67.4 92.9 66.8 91.5C66.2 90.1 63.7 88.6 61.8 87.5C59.9 86.4 56.8 86.1 55.3 85C53.8 83.9 52.3 82.2 53 80.8Z" fill="#92C5DE"/>
<path d="M90.3 68.2C90.3 67.3 93 65.5 94.3 65.5C95.5 65.5 97.8 67.3 97.8 68.2C97.8 69.2 95.5 71.2 94.3 71.2C93 71.2 90.3 69.2 90.3 68.2Z" fill="#92C5DE"/>
<path d="M301.8 63.2C306 61.6 311.4 61 316.8 60.8C322.2 60.5 329.3 61.3 334.3 62C339.3 62.7 343.5 63.3 346.8 65C350.1 66.7 353.9 68.8 354.3 72C354.7 75.2 351 80.8 349.3 84.5C347.6 88.2 343 92 344.3 94.5C345.5 97 352.2 98.2 356.8 99.5C361.4 100.8 366.8 101.2 371.8 102C376.8 102.8 382.2 103.7 386.8 104.5C391.4 105.3 395.5 104.9 399.3 107C403 109.1 407.4 112.8 409.3 117C411.2 121.2 411.4 127 410.5 132C409.7 137 407 142.4 404.3 147C401.6 151.6 398 155.3 394.3 159.5C390.5 163.7 386.4 168.2 381.8 172C377.2 175.8 371.8 179.7 366.8 182C361.8 184.3 356 185.3 351.8 185.8C347.6 186.2 344.7 185.8 341.8 184.5C338.9 183.2 338.5 179.3 334.3 178.2C330.1 177.2 321.8 178.9 316.8 178.2C311.8 177.6 308.5 176.4 304.3 174.5C300.1 172.6 296.4 169.5 291.8 167C287.2 164.5 282.2 161.2 276.8 159.5C271.4 157.8 265.1 157.6 259.3 157C253.5 156.4 247.6 155.3 241.8 155.8C236 156.2 228.9 159.5 224.3 159.5C219.7 159.5 216.4 157.4 214.3 155.8C212.2 154.1 211.4 151 211.8 149.5C212.2 148 214.3 148.7 216.8 147C219.3 145.3 224.7 142.4 226.8 139.5C228.9 136.6 229.3 132.8 229.3 129.5C229.3 126.2 228.9 122 226.8 119.5C224.7 117 219.5 116.6 216.8 114.5C214.1 112.4 210.5 109.5 210.5 107C210.5 104.5 213.7 101.6 216.8 99.5C219.9 97.4 225.1 97 229.3 94.5C233.5 92 237.2 87.4 241.8 84.5C246.4 81.6 251.4 78.7 256.8 77C262.2 75.3 268.5 75.5 274.3 74.5C280.1 73.5 287.2 72.6 291.8 70.8C296.4 68.9 297.6 64.9 301.8 63.2Z" fill="#92C5DE"/>
<path d="M239.3 99.5C241.6 97.2 247.2 96.7 251.8 95.8C256.4 94.8 261.8 94.2 266.8 94C271.8 93.8 277.2 93.6 281.8 94.5C286.4 95.4 291.4 97 294.3 99.5C297.2 102 296.8 106.6 299.3 109.5C301.8 112.4 305.5 114.5 309.3 117C313 119.5 318 122.4 321.8 124.5C325.5 126.6 328.5 129.5 331.8 129.5C335.1 129.5 338 126.2 341.8 124.5C345.5 122.8 350.1 120.4 354.3 119.5C358.5 118.6 363 118.2 366.8 119C370.5 119.8 374.5 121.5 376.8 124.5C379.1 127.5 380.5 132.8 380.5 137C380.5 141.2 379.5 146.2 376.8 149.5C374.1 152.8 368.5 156 364.3 157C360.1 158 355.5 157 351.8 155.8C348 154.5 345.1 151.8 341.8 149.5C338.5 147.2 335.1 144.3 331.8 142C328.5 139.7 325.5 137.4 321.8 135.8C318 134.1 313.5 133.2 309.3 132C305.1 130.8 301 128.5 296.8 128.2C292.6 128 288.9 129.7 284.3 130.8C279.7 131.8 273.9 133.7 269.3 134.5C264.7 135.3 260.5 136.6 256.8 135.8C253 134.9 249.3 132.2 246.8 129.5C244.3 126.8 243.3 122.8 241.8 119.5C240.3 116.2 238.5 112.8 238 109.5C237.6 106.2 237 101.8 239.3 99.5Z" fill="#4393C3"/>
<path d="M261.8 117C262 114.9 263.9 112.2 265.5 110.8C267.2 109.3 269.5 108 271.8 108.2C274.1 108.5 277.5 110.1 279.3 112C281 113.9 282.5 117.4 282.3 119.5C282.1 121.6 280 123.4 278 124.5C276.1 125.6 272.8 126.5 270.5 126.2C268.3 126 265.8 124.8 264.3 123.2C262.8 121.7 261.6 119.1 261.8 117Z" fill="#2166AC"/>
</g>
<use href="#ol" fill="none" stroke="#000" stroke-width="2.8" stroke-linejoin="round"/>
</g>
<circle cx="315.7" cy="74.4" r="3.95"/>
<circle cx="283.1" cy="85.2" r="3.95"/>
<circle cx="304.8" cy="85.2" r="3.95"/>
<circle cx="326.6" cy="85.2" r="3.95"/>
<circle cx="250.5" cy="96.1" r="3.95"/>
<circle cx="272.2" cy="96.1" r="3.95"/>
<circle cx="294" cy="96.1" r="3.95"/>
<circle cx="315.7" cy="96.1" r="3.95"/>
<circle cx="239.7" cy="106.9" r="3.95"/>
<circle cx="261.4" cy="106.9" r="3.95"/>
<circle cx="283.1" cy="106.9" r="3.95"/>
<circle cx="304.8" cy="106.9" r="3.95"/>
<circle cx="326.6" cy="106.9" r="3.95"/>
<circle cx="250.5" cy="117.8" r="3.95"/>
<circle cx="272.2" cy="117.8" r="3.95"/>
<circle cx="294" cy="117.8" r="3.95"/>
<circle cx="315.7" cy="117.8" r="3.95"/>
<circle cx="337.4" cy="117.8" r="3.95"/>
<circle cx="359.1" cy="117.8" r="3.95"/>
<circle cx="380.9" cy="117.8" r="3.95"/>
<circle cx="239.7" cy="128.6" r="3.95"/>
<circle cx="261.4" cy="128.6" r="3.95"/>
<circle cx="283.1" cy="128.6" r="3.95"/>
<circle cx="304.8" cy="128.6" r="3.95"/>
<circle cx="326.6" cy="128.6" r="3.95"/>
<circle cx="348.3" cy="128.6" r="3.95"/>
<circle cx="370" cy="128.6" r="3.95"/>
<circle cx="391.7" cy="128.6" r="3.95"/>
<circle cx="250.5" cy="139.5" r="3.95"/>
<circle cx="272.2" cy="139.5" r="3.95"/>
<circle cx="294" cy="139.5" r="3.95"/>
<circle cx="315.7" cy="139.5" r="3.95"/>
<circle cx="337.4" cy="139.5" r="3.95"/>
<circle cx="359.1" cy="139.5" r="3.95"/>
<circle cx="380.9" cy="139.5" r="3.95"/>
<circle cx="402.6" cy="139.5" r="3.95"/>
<circle cx="261.4" cy="150.3" r="3.95"/>
<circle cx="283.1" cy="150.3" r="3.95"/>
<circle cx="304.8" cy="150.3" r="3.95"/>
<circle cx="326.6" cy="150.3" r="3.95"/>
<circle cx="348.3" cy="150.3" r="3.95"/>
<circle cx="370" cy="150.3" r="3.95"/>
<circle cx="391.7" cy="150.3" r="3.95"/>
<circle cx="294" cy="161.2" r="3.95"/>
<circle cx="315.7" cy="161.2" r="3.95"/>
<circle cx="337.4" cy="161.2" r="3.95"/>
<circle cx="359.1" cy="161.2" r="3.95"/>
<circle cx="380.9" cy="161.2" r="3.95"/>
<circle cx="304.8" cy="172" r="3.95"/>
<circle cx="326.6" cy="172" r="3.95"/>
<circle cx="348.3" cy="172" r="3.95"/>
<circle cx="370" cy="172" r="3.95"/>
<circle cx="120.2" cy="96.1" r="3.95"/>
<circle cx="141.9" cy="96.1" r="3.95"/>
<circle cx="131" cy="106.9" r="3.95"/>
<circle cx="152.8" cy="106.9" r="3.95"/>
<circle cx="141.9" cy="117.8" r="3.95"/>
<circle cx="163.6" cy="117.8" r="3.95"/>
<circle cx="55" cy="31" r="3.95"/>
<circle cx="76.7" cy="31" r="3.95"/>
<circle cx="98.4" cy="31" r="3.95"/>
<circle cx="120.2" cy="31" r="3.95"/>
<circle cx="109.3" cy="41.9" r="3.95"/>
<circle cx="131" cy="41.9" r="3.95"/>
<circle cx="131" cy="20.2" r="3.95"/>
<circle cx="185.3" cy="9.3" r="3.95"/>
<circle cx="207.1" cy="9.3" r="3.95"/>
<rect x="162.9" y="97.6" width="260.7" height="108.5" fill="none" stroke="#A020F0" stroke-width="3.4" stroke-linejoin="round"/>
<rect x="0" y="0" width="434.5" height="216.9" fill="none" stroke="#000" stroke-width="1.1"/>
<path d="M0 216.9v11.3M10.9 216.9v6M32.6 216.9v6M54.3 216.9v11.3M76 216.9v6M97.8 216.9v6M108.6 216.9v11.3M119.5 216.9v6M141.2 216.9v6M162.9 216.9v11.3M184.7 216.9v6M206.4 216.9v6M217.2 216.9v11.3M228.1 216.9v6M249.8 216.9v6M271.6 216.9v11.3M293.3 216.9v6M315 216.9v6M325.9 216.9v11.3M336.7 216.9v6M358.5 216.9v6M380.2 216.9v11.3M401.9 216.9v6M423.6 216.9v6M434.5 216.9v11.3M0 216.9h-11.3M0 206.1h-6M0 195.2h-6M0 184.4h-6M0 173.5h-6M0 162.7h-11.3M0 151.8h-6M0 141h-6M0 130.1h-6M0 119.3h-6M0 108.5h-11.3M0 97.6h-6M0 86.8h-6M0 75.9h-6M0 65.1h-6M0 54.2h-11.3M0 43.4h-6M0 32.5h-6M0 21.7h-6M0 10.8h-6M0 0h-11.3" stroke="#000" stroke-width="0.85" fill="none"/>
<g style="filter:opacity(1)">
<text x="0" y="246.1" font-size="18.4" text-anchor="middle">65E</text>
<text x="54.3" y="246.1" font-size="18.4" text-anchor="middle">70E</text>
<text x="108.6" y="246.1" font-size="18.4" text-anchor="middle">75E</text>
<text x="162.9" y="246.1" font-size="18.4" text-anchor="middle">80E</text>
<text x="217.2" y="246.1" font-size="18.4" text-anchor="middle">85E</text>
<text x="271.6" y="246.1" font-size="18.4" text-anchor="middle">90E</text>
<text x="325.9" y="246.1" font-size="18.4" text-anchor="middle">95E</text>
<text x="380.2" y="246.1" font-size="18.4" text-anchor="middle">100E</text>
<text x="434.5" y="246.1" font-size="18.4" text-anchor="middle">105E</text>
<text x="-13.9" y="223.5" font-size="18.4" text-anchor="end">25N</text>
<text x="-13.9" y="169.3" font-size="18.4" text-anchor="end">30N</text>
<text x="-13.9" y="115" font-size="18.4" text-anchor="end">35N</text>
<text x="-13.9" y="60.8" font-size="18.4" text-anchor="end">40N</text>
<text x="-13.9" y="6.6" font-size="18.4" text-anchor="end">45N</text>
<text x="-1.2" y="-15.7" font-size="22.2">(d) SAT</text>
<rect x="56.9" y="263" width="32" height="19.2" fill="#053061" stroke="#000" stroke-width="0.7"/>
<rect x="88.9" y="263" width="32" height="19.2" fill="#2166AC" stroke="#000" stroke-width="0.7"/>
<rect x="120.9" y="263" width="32" height="19.2" fill="#4393C3" stroke="#000" stroke-width="0.7"/>
<rect x="152.9" y="263" width="32" height="19.2" fill="#92C5DE" stroke="#000" stroke-width="0.7"/>
<rect x="184.9" y="263" width="32" height="19.2" fill="#D1E5F0" stroke="#000" stroke-width="0.7"/>
<rect x="216.9" y="263" width="32" height="19.2" fill="#FDDBC7" stroke="#000" stroke-width="0.7"/>
<rect x="248.9" y="263" width="32" height="19.2" fill="#F4A582" stroke="#000" stroke-width="0.7"/>
<rect x="280.9" y="263" width="32" height="19.2" fill="#D6604D" stroke="#000" stroke-width="0.7"/>
<rect x="312.9" y="263" width="32" height="19.2" fill="#B2182B" stroke="#000" stroke-width="0.7"/>
<rect x="344.9" y="263" width="32" height="19.2" fill="#67001F" stroke="#000" stroke-width="0.7"/>
<text x="88.9" y="301.6" font-size="18.9" text-anchor="middle">-0.4</text>
<text x="152.9" y="301.6" font-size="18.9" text-anchor="middle">-0.2</text>
<text x="216.9" y="301.6" font-size="18.9" text-anchor="middle">0</text>
<text x="280.9" y="301.6" font-size="18.9" text-anchor="middle">0.2</text>
<text x="344.9" y="301.6" font-size="18.9" text-anchor="middle">0.4</text>
</g>
</g>
</svg></body></html>
